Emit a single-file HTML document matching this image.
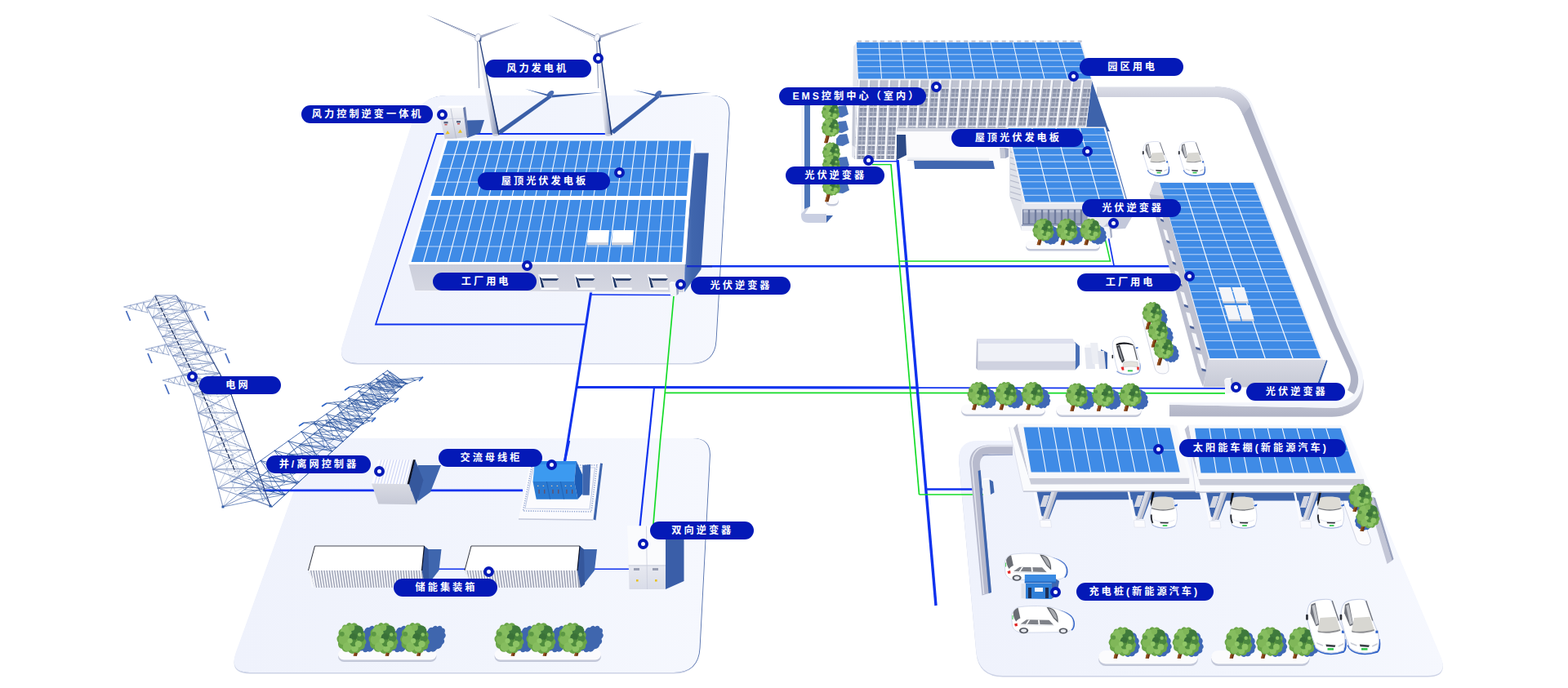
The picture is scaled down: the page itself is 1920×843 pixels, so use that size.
<!DOCTYPE html>
<html lang="zh-CN">
<head>
<meta charset="utf-8">
<title>智慧园区微电网</title>
<style>
html,body{margin:0;padding:0;background:#fff;}
body{width:1920px;height:843px;overflow:hidden;position:relative;font-family:"Liberation Sans","Noto Sans CJK SC",sans-serif;}
#scene{position:absolute;left:0;top:0;width:1920px;height:843px;display:block;}
.lb{position:absolute;height:22px;line-height:23.6px;border-radius:11px;background:#0419b7;color:#fff;font-weight:bold;font-size:12.2px;letter-spacing:3px;text-align:center;white-space:nowrap;box-sizing:border-box;}
.dt{position:absolute;width:13px;height:13px;border-radius:50%;background:#fff;border:4px solid #0419b7;box-sizing:border-box;}
</style>
</head>
<body>
<svg id="scene" width="1920" height="843" viewBox="0 0 1920 843" aria-hidden="true">
<defs>
<linearGradient id="gWall" x1="0" y1="0" x2="0" y2="1"><stop offset="0" stop-color="#cbcedb"/><stop offset="1" stop-color="#d5d7e1"/></linearGradient>
<linearGradient id="gTower" x1="0" y1="0" x2="1" y2="0"><stop offset="0" stop-color="#ffffff"/><stop offset="0.55" stop-color="#d8dbe6"/><stop offset="1" stop-color="#6f7fa8"/></linearGradient>
<linearGradient id="gBox" x1="0" y1="0" x2="0" y2="1"><stop offset="0" stop-color="#ffffff"/><stop offset="1" stop-color="#d9dce8"/></linearGradient>
<radialGradient id="gTree" cx="0.4" cy="0.35" r="0.7"><stop offset="0" stop-color="#8fd064"/><stop offset="0.6" stop-color="#5fae3f"/><stop offset="1" stop-color="#3f8a2c"/></radialGradient>
</defs>
<linearGradient id="gP1" gradientUnits="userSpaceOnUse" x1="412" y1="0" x2="894" y2="0"><stop offset="0" stop-color="#eff2fc"/><stop offset="0.6" stop-color="#f2f5fd"/><stop offset="1" stop-color="#f6f8fe"/></linearGradient>
<path d="M505.4 149 Q515 118.5 547 118.5 L870 118.5 Q894 118.5 892.6 142.5 L876.6 418.5 Q875 446.5 847 446.5 L438 446.5 Q412 446.5 419.8 421.7 Z" fill="#cdd3e6"/>
<path d="M506.3 147.5 Q515.9 117 547.9 117 L870.9 117 Q894.9 117 893.5 141 L877.5 417 Q875.9 445 847.9 445 L438.9 445 Q412.9 445 420.7 420.2 Z" fill="#5571ad"/>
<path d="M505.4 147.5 Q515 117 547 117 L870 117 Q894 117 892.6 141 L876.6 417 Q875 445 847 445 L438 445 Q412 445 419.8 420.2 Z" fill="url(#gP1)"/>
<linearGradient id="gP2" gradientUnits="userSpaceOnUse" x1="280" y1="0" x2="870" y2="0"><stop offset="0" stop-color="#eff2fc"/><stop offset="0.6" stop-color="#f2f5fd"/><stop offset="1" stop-color="#f6f8fe"/></linearGradient>
<path d="M374.2 563 Q383 538.5 409 538.5 L848 538.5 Q870 538.5 868.9 560.5 L856.6 795.5 Q855 825.5 825 825.5 L306 825.5 Q280 825.5 288.8 801 Z" fill="#cdd3e6"/>
<path d="M375.1 561.5 Q383.9 537 409.9 537 L848.9 537 Q870.9 537 869.8 559 L857.5 794 Q855.9 824 825.9 824 L306.9 824 Q280.9 824 289.7 799.5 Z" fill="#5571ad"/>
<path d="M374.2 561.5 Q383 537 409 537 L848 537 Q870 537 868.9 559 L856.6 794 Q855 824 825 824 L306 824 Q280 824 288.8 799.5 Z" fill="url(#gP2)"/>
<linearGradient id="gP3" gradientUnits="userSpaceOnUse" x1="1172" y1="0" x2="1774" y2="0"><stop offset="0" stop-color="#eff2fc"/><stop offset="0.6" stop-color="#f2f5fd"/><stop offset="1" stop-color="#f6f8fe"/></linearGradient>
<path d="M1174.3 567.4 Q1172 541.5 1198 541.5 L1634 541.5 Q1654 541.5 1661.7 560 L1764 805.5 Q1774 829.5 1748 829.5 L1228 829.5 Q1198 829.5 1195.3 799.6 Z" fill="#cdd3e6"/>
<path d="M1174.3 565.9 Q1172 540 1198 540 L1634 540 Q1654 540 1661.7 558.5 L1764 804 Q1774 828 1748 828 L1228 828 Q1198 828 1195.3 798.1 Z" fill="url(#gP3)"/>
<polyline points="745,164 534.5,164 460,397.5 716,397.5" fill="none" stroke="#0f32ee" stroke-width="1.8" />
<polyline points="724,361 823,361.5" fill="none" stroke="#0f32ee" stroke-width="1.4" />
<polyline points="724,356 706,474 690,575" fill="none" stroke="#0f32ee" stroke-width="3" />
<polyline points="840,326.2 1432,326.2" fill="none" stroke="#0f32ee" stroke-width="2.4" />
<polyline points="706,474.5 1124,475" fill="none" stroke="#0f32ee" stroke-width="3.1" />
<polyline points="1122,475.2 1500,475.8" fill="none" stroke="#0f32ee" stroke-width="1.8" />
<polyline points="815,481.3 1500,481.8" fill="none" stroke="#14dc28" stroke-width="1.7" />
<polyline points="825,363 812.5,500 808.5,540 800,642" fill="none" stroke="#14dc28" stroke-width="1.7" />
<polyline points="801,475 783.5,646" fill="none" stroke="#0f32ee" stroke-width="2.2" />
<polyline points="1091,201.6 1125.5,606" fill="none" stroke="#14dc28" stroke-width="1.7" />
<polyline points="1098.2,185 1146,742" fill="none" stroke="#0f32ee" stroke-width="3.4" />
<polyline points="1068,201.6 1091.6,201.6" fill="none" stroke="#14dc28" stroke-width="1.4" />
<polyline points="1068,197.7 1099,197.7" fill="none" stroke="#0f32ee" stroke-width="1.4" />
<polyline points="1101,320 1359.5,320 1353,292" fill="none" stroke="#14dc28" stroke-width="1.5" />
<polyline points="1364,325.5 1357.5,292" fill="none" stroke="#0f32ee" stroke-width="1.6" />
<polyline points="1125.5,606 1204,606" fill="none" stroke="#14dc28" stroke-width="1.5" />
<polyline points="1134,599.5 1204,599.5" fill="none" stroke="#0f32ee" stroke-width="2.6" />
<polyline points="322,600.8 640,600.8" fill="none" stroke="#0f32ee" stroke-width="2.8" />
<polygon points="609,161 614,164 676,119 673,116" fill="#3a5fa8"/>
<ellipse cx="674" cy="115" rx="5" ry="3" fill="#4a6db3" transform="rotate(-40 674 115)"/>
<polygon points="672,116 673,118.5 643,109" fill="#3a5fa8"/>
<polygon points="675,116.5 676,119.4 738,113" fill="#3a5fa8"/>
<polygon points="747,161 752,164 808,119 805,116" fill="#3a5fa8"/>
<ellipse cx="806" cy="115" rx="5" ry="3" fill="#4a6db3" transform="rotate(-40 806 115)"/>
<polygon points="804,116 805,118.5 775,110" fill="#3a5fa8"/>
<polygon points="807,116.5 808,119.4 871,113" fill="#3a5fa8"/>
<linearGradient id="gCab" x1="0" y1="0" x2="0" y2="1"><stop offset="0" stop-color="#f4f5f9"/><stop offset="0.45" stop-color="#e3e5ed"/><stop offset="1" stop-color="#c9ccd9"/></linearGradient>
<polygon points="572,147.5 593,147 588,163 572,169" fill="#3d62ab"/>
<polygon points="536,132 567,132 571.5,168 545,171" fill="url(#gCab)"/>
<polygon points="567,132 570,131 574,167 571.5,168" fill="#6d7fae"/>
<polygon points="536,132 538.5,129.5 569.5,129.5 567,132" fill="#ffffff"/>
<polyline points="552,133 558.5,169.5" fill="none" stroke="#aeb3c6" stroke-width="0.7" />
<polyline points="538,146 569.5,145" fill="none" stroke="#c4c8d6" stroke-width="0.6" />
<rect x="543.5" y="149" width="5" height="2.4" fill="#5b6482"/>
<rect x="544.5" y="152.2" width="3" height="1.2" fill="#c23a3a"/>
<rect x="559" y="148" width="5" height="2.4" fill="#5b6482"/>
<rect x="560" y="151.2" width="3" height="1.2" fill="#c23a3a"/>
<polygon points="548,160 550.6,164 545.6,164.4" fill="#e8c020"/>
<polygon points="563.4,158.6 566,162.6 561,163" fill="#e8c020"/>
<polygon points="546.5,170.5 549,170.5 549.4,173 547,173" fill="#7d87a6"/>
<linearGradient id="gFs" x1="0" y1="0" x2="1" y2="0"><stop offset="0" stop-color="#5578be"/><stop offset="0.3" stop-color="#4066ad"/><stop offset="1" stop-color="#3b5fa8"/></linearGradient>
<polygon points="850,187.5 867.8,187.5 858.5,330 838,358 838.5,322" fill="url(#gFs)"/>
<polygon points="849.5,172 852.5,187.5 850,187.5" fill="#e9ebf3"/>
<polygon points="500,322 838.5,322 837,358 508.5,356" fill="url(#gWall)"/>
<polyline points="508.5,356.6 837,358.6" fill="none" stroke="#f4f5fa" stroke-width="1.2" />
<polygon points="545.5,170 849.5,170 839.5,324 499.5,324" fill="#ffffff"/>
<polygon points="548,172.5 846.5,172.5 841,240 527.5,240" fill="#3f8be6"/>
<path d="M542.9 189.4L845.1 189.4M537.8 206.2L843.8 206.2M532.6 223.1L842.4 223.1" fill="none" stroke="#bcd6f8" stroke-width="1.1"/>
<path d="M561.6 172.5L541.8 240M575.1 172.5L556 240M588.7 172.5L570.2 240M602.3 172.5L584.5 240M615.8 172.5L598.8 240M629.4 172.5L613 240M643 172.5L627.2 240M656.5 172.5L641.5 240M670.1 172.5L655.8 240M683.7 172.5L670 240M697.2 172.5L684.2 240M710.8 172.5L698.5 240M724.4 172.5L712.8 240M738 172.5L727 240M751.5 172.5L741.2 240M765.1 172.5L755.5 240M778.7 172.5L769.8 240M792.2 172.5L784 240M805.8 172.5L798.2 240M819.4 172.5L812.5 240M832.9 172.5L826.8 240" fill="none" stroke="#ffffff" stroke-width="1.1" stroke-opacity="0.95"/>
<polygon points="525.5,245 840.5,245 835,321 503.5,321" fill="#3f8be6"/>
<path d="M520 264L839.1 264M514.5 283L837.8 283M509 302L836.4 302" fill="none" stroke="#bcd6f8" stroke-width="1.1"/>
<path d="M539.8 245L518.6 321M554.1 245L533.6 321M568.5 245L548.7 321M582.8 245L563.8 321M597.1 245L578.8 321M611.4 245L593.9 321M625.7 245L609 321M640 245L624 321M654.4 245L639.1 321M668.7 245L654.2 321M683 245L669.2 321M697.3 245L684.3 321M711.6 245L699.4 321M726 245L714.5 321M740.3 245L729.5 321M754.6 245L744.6 321M768.9 245L759.7 321M783.2 245L774.7 321M797.5 245L789.8 321M811.9 245L804.9 321M826.2 245L819.9 321" fill="none" stroke="#ffffff" stroke-width="1.1" stroke-opacity="0.95"/>
<polygon points="720.5,282 746,282 745,297 719,297" fill="#ffffff"/>
<polygon points="719,297 745,297 745,300.5 719,300.5" fill="#cfd2dc"/>
<polygon points="750.5,282 776,282 775,297 749,297" fill="#ffffff"/>
<polygon points="749,297 775,297 775,300.5 749,300.5" fill="#cfd2dc"/>
<polygon points="658.8,336.2 681.2,336.2 684.4,341.2 663.1,341.2" fill="#fbfcfe"/>
<polygon points="663.1,341.2 684.4,341.2 681.8,343.8 665.1,343.8" fill="#1d3566"/>
<polygon points="660.4,338.8 663.1,341.2 666.4,352.5 663.4,352.8" fill="#1d3566"/>
<polygon points="658.8,336.2 660.4,338.8 663.4,352.8 662.1,354.2" fill="#f4f5f9"/>
<polygon points="663.4,352.5 684.4,352.5 684.4,355 662.1,355" fill="#fbfcfe"/>
<polygon points="703.1,336.2 725.6,336.2 728.7,341.2 707.5,341.2" fill="#fbfcfe"/>
<polygon points="707.5,341.2 728.7,341.2 726.1,343.8 709.5,343.8" fill="#1d3566"/>
<polygon points="704.7,338.8 707.5,341.2 710.7,352.5 707.7,352.8" fill="#1d3566"/>
<polygon points="703.1,336.2 704.7,338.8 707.7,352.8 706.5,354.2" fill="#f4f5f9"/>
<polygon points="707.7,352.5 728.7,352.5 728.7,355 706.5,355" fill="#fbfcfe"/>
<polygon points="748.1,336.2 770.6,336.2 773.7,341.2 752.5,341.2" fill="#fbfcfe"/>
<polygon points="752.5,341.2 773.7,341.2 771.1,343.8 754.5,343.8" fill="#1d3566"/>
<polygon points="749.7,338.8 752.5,341.2 755.7,352.5 752.7,352.8" fill="#1d3566"/>
<polygon points="748.1,336.2 749.7,338.8 752.7,352.8 751.5,354.2" fill="#f4f5f9"/>
<polygon points="752.7,352.5 773.7,352.5 773.7,355 751.5,355" fill="#fbfcfe"/>
<polygon points="792.5,336.2 815,336.2 818.1,341.2 796.9,341.2" fill="#fbfcfe"/>
<polygon points="796.9,341.2 818.1,341.2 815.5,343.8 798.9,343.8" fill="#1d3566"/>
<polygon points="794.1,338.8 796.9,341.2 800.1,352.5 797.1,352.8" fill="#1d3566"/>
<polygon points="792.5,336.2 794.1,338.8 797.1,352.8 795.9,354.2" fill="#f4f5f9"/>
<polygon points="797.1,352.5 818.1,352.5 818.1,355 795.9,355" fill="#fbfcfe"/>
<polyline points="841,326.2 872,326.2" fill="none" stroke="#1530c8" stroke-width="2.4" />
<polygon points="819.5,347 828,347 828.5,362 821,362.5" fill="#f3f4f8"/>
<polygon points="828,347 830.5,346 831,360 828.5,362" fill="#9aa6c4"/>
<polygon points="819.5,347 822,345 830.5,346 828,347" fill="#ffffff"/>
<polygon points="603,165.5 611.6,165.5 587.6,49 583.6,49" fill="url(#gTower)"/>
<polygon points="610,165.5 611.6,165 587.8,49 586.6,49" fill="#1f3a78"/>
<ellipse cx="606.8" cy="165.5" rx="3.5" ry="1.4" fill="#c9cddb"/>
<polygon points="583.8,48 585.3,48 587.2,108 586.2,108" fill="#8e9ab8"/>
<polygon points="583,43.8 584.5,47.6 522,18" fill="#4e6192"/>
<polygon points="583,44.8 584,47 537.8,25" fill="#f1f3f9"/>
<polygon points="585.5,44.4 586.4,47.8 637.5,27" fill="#a2abc6"/>
<polygon points="586,45 589.4,46 589.4,50.5 586,51" fill="#3d568e"/>
<ellipse cx="585" cy="46" rx="3.1" ry="4.8" fill="#f7f8fc" stroke="#a3adc8" stroke-width="0.6" transform="rotate(14 585 46)"/>
<polygon points="741,165.5 749.6,165.5 733.6,49 729.6,49" fill="url(#gTower)"/>
<polygon points="748,165.5 749.6,165 733.8,49 732.6,49" fill="#1f3a78"/>
<ellipse cx="744.8" cy="165.5" rx="3.5" ry="1.4" fill="#c9cddb"/>
<polygon points="729.8,48 731.3,48 733.2,108 732.2,108" fill="#8e9ab8"/>
<polygon points="729,43.8 730.5,47.6 671,18" fill="#4e6192"/>
<polygon points="729,44.8 730,47 686,25" fill="#f1f3f9"/>
<polygon points="731.5,44.4 732.4,47.8 788,27" fill="#a2abc6"/>
<polygon points="732,45 735.4,46 735.4,50.5 732,51" fill="#3d568e"/>
<ellipse cx="731" cy="46" rx="3.1" ry="4.8" fill="#f7f8fc" stroke="#a3adc8" stroke-width="0.6" transform="rotate(14 731 46)"/>
<linearGradient id="gKerbH" x1="0" y1="0" x2="0" y2="1"><stop offset="0" stop-color="#dcdee8"/><stop offset="1" stop-color="#b3b6c8"/></linearGradient>
<linearGradient id="gKerbS" x1="0" y1="0" x2="1" y2="0"><stop offset="0" stop-color="#a9adc2"/><stop offset="1" stop-color="#c9ccd9"/></linearGradient>
<linearGradient id="gKerbF" x1="0" y1="0" x2="0" y2="1"><stop offset="0" stop-color="#d9dbe5"/><stop offset="1" stop-color="#b1b4c6"/></linearGradient>
<path d="M1432 495.8 L1632 499.8 C1652 499.8 1664 490 1669.5 464 C1672 486 1664 510.8 1631 510.8 L1432 510.2 Z" fill="url(#gKerbF)"/>
<path d="M1488 105.6 C1512 105.6 1527 113 1534 129 L1644 400 L1667 452 C1672 466 1668 482 1660 490 C1652 497 1644 499.8 1632 499.8 L1432 495.8 L1432 493.3 L1630 493.3 C1642 493.3 1652 489 1658 483 C1664 474 1665 462 1660 450 L1637 400 L1531 130 C1524 114 1510 106.5 1488 106.5 Z" fill="#f3f5fb"/>
<path d="M1343 106.5 L1488 106.5 C1510 106.5 1524 114 1531 130 L1637 400 L1660 450 C1665 462 1664 474 1658 483 L1650 478 C1655 470 1655 462 1651 452 L1627.5 400 L1522 141 C1516 125 1506 119 1488 119 L1343 119 Z" fill="#aeb2c5"/>
<path d="M1343 106.5 L1488 106.5 C1510 106.5 1524 114 1531 130 L1522 141 C1516 125 1506 119 1488 119 L1343 119 Z" fill="url(#gKerbH)"/>
<polyline points="1343,106.5 1488,106.5" fill="none" stroke="#eceef5" stroke-width="1" />
<path d="M981 129 L992 129 L992 252 L985.5 262 L1012 262 L1012 273 L990 273 C984 273 981 270 981 264 Z" fill="#c9cfe2"/>
<polygon points="985,129 992,129 992,253 985,256" fill="#4d76ba"/>
<polygon points="981,129 985,129 985,258 981,262" fill="#f3f5fb"/>
<polygon points="1012,264 1020,264 1012,273" fill="#3f66ae"/>
<polygon points="1337,99 1356,155 1359,161 1330,161 1330,156" fill="#3e63ab"/>
<polygon points="1045,57 1049,52 1050.5,97 1046.5,195 1043,192" fill="#e4e6ee"/>
<polygon points="1044.2,120 1047,120 1046.6,180 1043.4,178" fill="#c3c7d4"/>
<clipPath id="cFac"><polygon points="1050.5,97 1337,97 1330,156.5 1098,156.5 1098,195 1046.5,195"/></clipPath>
<g clip-path="url(#cFac)">
<polygon points="1040,97 1340,97 1340,196 1040,196" fill="#8f97ae"/>
<polygon points="1040,97 1340,97 1340,107 1040,107" fill="#bfc3d1"/>
<rect x="1040" y="107" width="300" height="1.8" fill="#dfe2ea"/>
<rect x="1040" y="109.2" width="300" height="1.3" fill="#7f879f"/>
<rect x="1040" y="118.7" width="300" height="1.8" fill="#dfe2ea"/>
<rect x="1040" y="120.9" width="300" height="1.3" fill="#7f879f"/>
<rect x="1040" y="130.4" width="300" height="1.8" fill="#dfe2ea"/>
<rect x="1040" y="132.6" width="300" height="1.3" fill="#7f879f"/>
<rect x="1040" y="142.1" width="300" height="1.8" fill="#dfe2ea"/>
<rect x="1040" y="144.3" width="300" height="1.3" fill="#7f879f"/>
<rect x="1040" y="153.8" width="300" height="1.8" fill="#dfe2ea"/>
<rect x="1040" y="156" width="300" height="1.3" fill="#7f879f"/>
<rect x="1040" y="165.5" width="300" height="1.8" fill="#dfe2ea"/>
<rect x="1040" y="167.7" width="300" height="1.3" fill="#7f879f"/>
<rect x="1040" y="177.2" width="300" height="1.8" fill="#dfe2ea"/>
<rect x="1040" y="179.4" width="300" height="1.3" fill="#7f879f"/>
<rect x="1040" y="188.9" width="300" height="1.8" fill="#dfe2ea"/>
<rect x="1040" y="191.1" width="300" height="1.3" fill="#7f879f"/>
<path d="M1040 114.2H1340M1040 125.9H1340M1040 137.6H1340M1040 149.3H1340M1040 161H1340M1040 172.7H1340M1040 184.4H1340M1040 196.1H1340" fill="none" stroke="#c3c8d6" stroke-width="0.9"/>
<polygon points="1052.9,97 1054.3,97 1050.3,195 1048.9,195" fill="#b4b9ca"/>
<polygon points="1057.9,106 1058.7,106 1054.7,195 1053.9,195" fill="#c5c9d6"/>
<polygon points="1050.5,97 1052.9,97 1048.9,195 1046.5,195" fill="#f7f8fb"/>
<polygon points="1065.4,97 1066.8,97 1062.3,195 1060.9,195" fill="#b4b9ca"/>
<polygon points="1070.4,106 1071.2,106 1066.7,195 1065.9,195" fill="#c5c9d6"/>
<polygon points="1063,97 1065.4,97 1060.9,195 1058.5,195" fill="#f7f8fb"/>
<polygon points="1077.8,97 1079.2,97 1074.4,195 1073,195" fill="#b4b9ca"/>
<polygon points="1082.8,106 1083.6,106 1078.8,195 1078,195" fill="#c5c9d6"/>
<polygon points="1075.4,97 1077.8,97 1073,195 1070.6,195" fill="#f7f8fb"/>
<polygon points="1090.3,97 1091.7,97 1086.4,195 1085,195" fill="#b4b9ca"/>
<polygon points="1095.3,106 1096.1,106 1090.8,195 1090,195" fill="#c5c9d6"/>
<polygon points="1087.9,97 1090.3,97 1085,195 1082.6,195" fill="#f7f8fb"/>
<polygon points="1102.7,97 1104.1,97 1098.5,195 1097.1,195" fill="#b4b9ca"/>
<polygon points="1107.7,106 1108.5,106 1102.9,195 1102.1,195" fill="#c5c9d6"/>
<polygon points="1100.3,97 1102.7,97 1097.1,195 1094.7,195" fill="#f7f8fb"/>
<polygon points="1115.2,97 1116.6,97 1110.5,195 1109.1,195" fill="#b4b9ca"/>
<polygon points="1120.2,106 1121,106 1114.9,195 1114.1,195" fill="#c5c9d6"/>
<polygon points="1112.8,97 1115.2,97 1109.1,195 1106.7,195" fill="#f7f8fb"/>
<polygon points="1127.6,97 1129,97 1122.6,195 1121.2,195" fill="#b4b9ca"/>
<polygon points="1132.6,106 1133.4,106 1127,195 1126.2,195" fill="#c5c9d6"/>
<polygon points="1125.2,97 1127.6,97 1121.2,195 1118.8,195" fill="#f7f8fb"/>
<polygon points="1140.1,97 1141.5,97 1134.6,195 1133.2,195" fill="#b4b9ca"/>
<polygon points="1145.1,106 1145.9,106 1139,195 1138.2,195" fill="#c5c9d6"/>
<polygon points="1137.7,97 1140.1,97 1133.2,195 1130.8,195" fill="#f7f8fb"/>
<polygon points="1152.6,97 1154,97 1146.6,195 1145.2,195" fill="#b4b9ca"/>
<polygon points="1157.6,106 1158.4,106 1151,195 1150.2,195" fill="#c5c9d6"/>
<polygon points="1150.2,97 1152.6,97 1145.2,195 1142.8,195" fill="#f7f8fb"/>
<polygon points="1165,97 1166.4,97 1158.7,195 1157.3,195" fill="#b4b9ca"/>
<polygon points="1170,106 1170.8,106 1163.1,195 1162.3,195" fill="#c5c9d6"/>
<polygon points="1162.6,97 1165,97 1157.3,195 1154.9,195" fill="#f7f8fb"/>
<polygon points="1177.5,97 1178.9,97 1170.7,195 1169.3,195" fill="#b4b9ca"/>
<polygon points="1182.5,106 1183.3,106 1175.1,195 1174.3,195" fill="#c5c9d6"/>
<polygon points="1175.1,97 1177.5,97 1169.3,195 1166.9,195" fill="#f7f8fb"/>
<polygon points="1189.9,97 1191.3,97 1182.8,195 1181.4,195" fill="#b4b9ca"/>
<polygon points="1194.9,106 1195.7,106 1187.2,195 1186.4,195" fill="#c5c9d6"/>
<polygon points="1187.5,97 1189.9,97 1181.4,195 1179,195" fill="#f7f8fb"/>
<polygon points="1202.4,97 1203.8,97 1194.8,195 1193.4,195" fill="#b4b9ca"/>
<polygon points="1207.4,106 1208.2,106 1199.2,195 1198.4,195" fill="#c5c9d6"/>
<polygon points="1200,97 1202.4,97 1193.4,195 1191,195" fill="#f7f8fb"/>
<polygon points="1214.8,97 1216.2,97 1206.9,195 1205.5,195" fill="#b4b9ca"/>
<polygon points="1219.8,106 1220.6,106 1211.3,195 1210.5,195" fill="#c5c9d6"/>
<polygon points="1212.4,97 1214.8,97 1205.5,195 1203.1,195" fill="#f7f8fb"/>
<polygon points="1227.3,97 1228.7,97 1218.9,195 1217.5,195" fill="#b4b9ca"/>
<polygon points="1232.3,106 1233.1,106 1223.3,195 1222.5,195" fill="#c5c9d6"/>
<polygon points="1224.9,97 1227.3,97 1217.5,195 1215.1,195" fill="#f7f8fb"/>
<polygon points="1239.7,97 1241.1,97 1231,195 1229.6,195" fill="#b4b9ca"/>
<polygon points="1244.7,106 1245.5,106 1235.4,195 1234.6,195" fill="#c5c9d6"/>
<polygon points="1237.3,97 1239.7,97 1229.6,195 1227.2,195" fill="#f7f8fb"/>
<polygon points="1252.2,97 1253.6,97 1243,195 1241.6,195" fill="#b4b9ca"/>
<polygon points="1257.2,106 1258,106 1247.4,195 1246.6,195" fill="#c5c9d6"/>
<polygon points="1249.8,97 1252.2,97 1241.6,195 1239.2,195" fill="#f7f8fb"/>
<polygon points="1264.7,97 1266.1,97 1255,195 1253.6,195" fill="#b4b9ca"/>
<polygon points="1269.7,106 1270.5,106 1259.4,195 1258.6,195" fill="#c5c9d6"/>
<polygon points="1262.3,97 1264.7,97 1253.6,195 1251.2,195" fill="#f7f8fb"/>
<polygon points="1277.1,97 1278.5,97 1267.1,195 1265.7,195" fill="#b4b9ca"/>
<polygon points="1282.1,106 1282.9,106 1271.5,195 1270.7,195" fill="#c5c9d6"/>
<polygon points="1274.7,97 1277.1,97 1265.7,195 1263.3,195" fill="#f7f8fb"/>
<polygon points="1289.6,97 1291,97 1279.1,195 1277.7,195" fill="#b4b9ca"/>
<polygon points="1294.6,106 1295.4,106 1283.5,195 1282.7,195" fill="#c5c9d6"/>
<polygon points="1287.2,97 1289.6,97 1277.7,195 1275.3,195" fill="#f7f8fb"/>
<polygon points="1302,97 1303.4,97 1291.2,195 1289.8,195" fill="#b4b9ca"/>
<polygon points="1307,106 1307.8,106 1295.6,195 1294.8,195" fill="#c5c9d6"/>
<polygon points="1299.6,97 1302,97 1289.8,195 1287.4,195" fill="#f7f8fb"/>
<polygon points="1314.5,97 1315.9,97 1303.2,195 1301.8,195" fill="#b4b9ca"/>
<polygon points="1319.5,106 1320.3,106 1307.6,195 1306.8,195" fill="#c5c9d6"/>
<polygon points="1312.1,97 1314.5,97 1301.8,195 1299.4,195" fill="#f7f8fb"/>
<polygon points="1326.9,97 1328.3,97 1315.3,195 1313.9,195" fill="#b4b9ca"/>
<polygon points="1331.9,106 1332.7,106 1319.7,195 1318.9,195" fill="#c5c9d6"/>
<polygon points="1324.5,97 1326.9,97 1313.9,195 1311.5,195" fill="#f7f8fb"/>
<polygon points="1339.4,97 1340.8,97 1327.3,195 1325.9,195" fill="#b4b9ca"/>
<polygon points="1344.4,106 1345.2,106 1331.7,195 1330.9,195" fill="#c5c9d6"/>
<polygon points="1337,97 1339.4,97 1325.9,195 1323.5,195" fill="#f7f8fb"/>
</g>
<polyline points="1050.5,97.6 1337,97.6" fill="none" stroke="#f8f9fc" stroke-width="1.4" />
<polygon points="1098,157 1240,157 1240,196 1098,196" fill="#fbfbfd"/>
<polygon points="1098,165 1109,165 1110,190 1098,196" fill="#2d4a86"/>
<polygon points="1098,157 1240,157 1240,161 1098,161" fill="#d5d8e2"/>
<polygon points="1119,197 1216,197 1218,207 1120,207" fill="#4167b0"/>
<polygon points="1111,192.8 1211,193.6 1211.5,196.6 1112,196" fill="#eef0f5"/>
<polyline points="1111,196.3 1211.5,196.9" fill="none" stroke="#b8bccb" stroke-width="0.8" />
<polygon points="1224,181 1230,181 1231,194 1225,194" fill="#c4c8d6"/>
<polygon points="1230,181 1235,182 1235,192 1231,194" fill="#9fa8c2"/>
<polygon points="1047.8,50.5 1324,50.5 1338,98 1050,98" fill="#eef0f6"/>
<rect x="1050" y="49.6" width="5" height="2" fill="#b9bdcc"/>
<rect x="1059.3" y="49.6" width="5" height="2" fill="#b9bdcc"/>
<rect x="1068.6" y="49.6" width="5" height="2" fill="#b9bdcc"/>
<rect x="1077.9" y="49.6" width="5" height="2" fill="#b9bdcc"/>
<rect x="1087.2" y="49.6" width="5" height="2" fill="#b9bdcc"/>
<rect x="1096.5" y="49.6" width="5" height="2" fill="#b9bdcc"/>
<rect x="1105.8" y="49.6" width="5" height="2" fill="#b9bdcc"/>
<rect x="1115.1" y="49.6" width="5" height="2" fill="#b9bdcc"/>
<rect x="1124.4" y="49.6" width="5" height="2" fill="#b9bdcc"/>
<rect x="1133.7" y="49.6" width="5" height="2" fill="#b9bdcc"/>
<rect x="1143" y="49.6" width="5" height="2" fill="#b9bdcc"/>
<rect x="1152.3" y="49.6" width="5" height="2" fill="#b9bdcc"/>
<rect x="1161.6" y="49.6" width="5" height="2" fill="#b9bdcc"/>
<rect x="1170.9" y="49.6" width="5" height="2" fill="#b9bdcc"/>
<rect x="1180.2" y="49.6" width="5" height="2" fill="#b9bdcc"/>
<rect x="1189.5" y="49.6" width="5" height="2" fill="#b9bdcc"/>
<rect x="1198.8" y="49.6" width="5" height="2" fill="#b9bdcc"/>
<rect x="1208.1" y="49.6" width="5" height="2" fill="#b9bdcc"/>
<rect x="1217.4" y="49.6" width="5" height="2" fill="#b9bdcc"/>
<rect x="1226.7" y="49.6" width="5" height="2" fill="#b9bdcc"/>
<rect x="1236" y="49.6" width="5" height="2" fill="#b9bdcc"/>
<rect x="1245.3" y="49.6" width="5" height="2" fill="#b9bdcc"/>
<rect x="1254.6" y="49.6" width="5" height="2" fill="#b9bdcc"/>
<rect x="1263.9" y="49.6" width="5" height="2" fill="#b9bdcc"/>
<rect x="1273.2" y="49.6" width="5" height="2" fill="#b9bdcc"/>
<rect x="1282.5" y="49.6" width="5" height="2" fill="#b9bdcc"/>
<rect x="1291.8" y="49.6" width="5" height="2" fill="#b9bdcc"/>
<rect x="1301.1" y="49.6" width="5" height="2" fill="#b9bdcc"/>
<rect x="1310.4" y="49.6" width="5" height="2" fill="#b9bdcc"/>
<rect x="1319.7" y="49.6" width="5" height="2" fill="#b9bdcc"/>
<polygon points="1048.8,52 1322.5,52 1336,96.5 1051,96.5" fill="#3f8be6"/>
<path d="M1049.1 59.4L1324.8 59.4M1049.5 66.8L1327 66.8M1049.9 74.2L1329.2 74.2M1050.2 81.7L1331.5 81.7M1050.6 89.1L1333.8 89.1" fill="none" stroke="#bcd6f8" stroke-width="1"/>
<path d="M1076.1 52L1079.5 96.5M1103.5 52L1108 96.5M1130.9 52L1136.5 96.5M1158.2 52L1165 96.5M1185.6 52L1193.5 96.5M1213 52L1222 96.5M1240.4 52L1250.5 96.5M1267.8 52L1279 96.5M1295.1 52L1307.5 96.5" fill="none" stroke="#ffffff" stroke-width="1" stroke-opacity="0.95"/>
<polygon points="1352.5,157 1355,157 1381.5,250 1379,250" fill="#3f66ae"/>
<polygon points="1345,264 1386,266 1378,280 1346,282" fill="#c3c8da"/>
<polygon points="1379,250 1382,250 1386,266 1350,265" fill="#d5d9e6"/>
<polygon points="1236,176 1241,180 1256,250 1251,283 1236,240" fill="#dfe2ea"/>
<polyline points="1237,186 1250,190" fill="none" stroke="#b4b9ca" stroke-width="1.2" />
<polyline points="1237,193 1250,197" fill="none" stroke="#b4b9ca" stroke-width="1.2" />
<polyline points="1237,200 1250,204" fill="none" stroke="#b4b9ca" stroke-width="1.2" />
<polyline points="1237,207 1250,211" fill="none" stroke="#b4b9ca" stroke-width="1.2" />
<polyline points="1237,214 1250,218" fill="none" stroke="#b4b9ca" stroke-width="1.2" />
<polyline points="1237,221 1250,225" fill="none" stroke="#b4b9ca" stroke-width="1.2" />
<polyline points="1237,228 1250,232" fill="none" stroke="#b4b9ca" stroke-width="1.2" />
<polyline points="1237,235 1250,239" fill="none" stroke="#b4b9ca" stroke-width="1.2" />
<polyline points="1237,242 1250,246" fill="none" stroke="#b4b9ca" stroke-width="1.2" />
<polygon points="1251,250 1379,250 1346,283 1251,283" fill="#e6e8ef"/>
<polygon points="1252,256.5 1332,256.5 1331,275 1252,275" fill="#6f7b9d"/>
<rect x="1253.2" y="257.3" width="5.6" height="16.6" fill="#9aa3bd"/>
<rect x="1253.2" y="257.3" width="5.6" height="3" fill="#b9c0d4"/>
<rect x="1261.2" y="257.3" width="5.6" height="16.6" fill="#9aa3bd"/>
<rect x="1261.2" y="257.3" width="5.6" height="3" fill="#b9c0d4"/>
<rect x="1269.2" y="257.3" width="5.6" height="16.6" fill="#9aa3bd"/>
<rect x="1269.2" y="257.3" width="5.6" height="3" fill="#b9c0d4"/>
<rect x="1277.2" y="257.3" width="5.6" height="16.6" fill="#9aa3bd"/>
<rect x="1277.2" y="257.3" width="5.6" height="3" fill="#b9c0d4"/>
<rect x="1285.2" y="257.3" width="5.6" height="16.6" fill="#9aa3bd"/>
<rect x="1285.2" y="257.3" width="5.6" height="3" fill="#b9c0d4"/>
<rect x="1293.2" y="257.3" width="5.6" height="16.6" fill="#9aa3bd"/>
<rect x="1293.2" y="257.3" width="5.6" height="3" fill="#b9c0d4"/>
<rect x="1301.2" y="257.3" width="5.6" height="16.6" fill="#9aa3bd"/>
<rect x="1301.2" y="257.3" width="5.6" height="3" fill="#b9c0d4"/>
<rect x="1309.2" y="257.3" width="5.6" height="16.6" fill="#9aa3bd"/>
<rect x="1309.2" y="257.3" width="5.6" height="3" fill="#b9c0d4"/>
<rect x="1317.2" y="257.3" width="5.6" height="16.6" fill="#9aa3bd"/>
<rect x="1317.2" y="257.3" width="5.6" height="3" fill="#b9c0d4"/>
<rect x="1325.2" y="257.3" width="5.6" height="16.6" fill="#9aa3bd"/>
<rect x="1325.2" y="257.3" width="5.6" height="3" fill="#b9c0d4"/>
<polygon points="1251,276.5 1340,276.5 1340,283 1251,283" fill="#f4f5f9"/>
<polyline points="1251,276 1333,276" fill="none" stroke="#4d5f8e" stroke-width="1.2" />
<polygon points="1232.5,155.5 1353.5,155.5 1380.5,250 1254,250" fill="#f1f2f7"/>
<polygon points="1234.5,157 1351.5,157 1377.5,247.5 1255.5,247.5" fill="#3f8be6"/>
<path d="M1236.4 165.2L1353.9 165.2M1238.3 173.5L1356.2 173.5M1240.2 181.7L1358.6 181.7M1242.1 189.9L1361 189.9M1244 198.1L1363.3 198.1M1246 206.4L1365.7 206.4M1247.9 214.6L1368 214.6M1249.8 222.8L1370.4 222.8M1251.7 231L1372.8 231M1253.6 239.3L1375.1 239.3" fill="none" stroke="#bcd6f8" stroke-width="1.1"/>
<path d="M1263.8 157L1286 247.5M1293 157L1316.5 247.5M1322.2 157L1347 247.5" fill="none" stroke="#ffffff" stroke-width="1.1" stroke-opacity="0.95"/>
<polygon points="1350,278 1358.5,277.5 1360,292 1352,293" fill="#f5f6fa"/>
<polygon points="1358.5,277.5 1361,279 1362,290.5 1360,292" fill="#a5adc6"/>
<polygon points="1413.7,222.5 1420,224 1481,439 1473,474 1466.5,457 1407.5,238" fill="#bfc2d1"/>
<polygon points="1413.7,222.5 1420,224 1424,240 1407.5,238" fill="#d5d7e2"/>
<polygon points="1417.3,255.4 1421,256.9 1424.5,269.3 1420.8,267.8" fill="#f7f8fb"/>
<polygon points="1420.8,267.8 1424.5,269.3 1425.3,272.3 1421.6,270.8" fill="#4c629a"/>
<polygon points="1424.3,280.8 1428.3,282.3 1432,295.5 1428,294" fill="#f7f8fb"/>
<polygon points="1428,294 1432,295.5 1432.8,298.5 1428.8,297" fill="#4c629a"/>
<polygon points="1431.2,306.1 1435.5,307.6 1439.4,321.7 1435.2,320.2" fill="#f7f8fb"/>
<polygon points="1435.2,320.2 1439.4,321.7 1440.2,324.7 1436,323.2" fill="#4c629a"/>
<polygon points="1438.2,331.5 1442.7,333 1446.9,348 1442.4,346.5" fill="#f7f8fb"/>
<polygon points="1442.4,346.5 1446.9,348 1447.7,351 1443.2,349.5" fill="#4c629a"/>
<polygon points="1445.1,356.9 1449.9,358.4 1454.4,374.2 1449.6,372.7" fill="#f7f8fb"/>
<polygon points="1449.6,372.7 1454.4,374.2 1455.2,377.2 1450.4,375.7" fill="#4c629a"/>
<polygon points="1452.1,382.2 1457.1,383.7 1461.8,400.4 1456.7,398.9" fill="#f7f8fb"/>
<polygon points="1456.7,398.9 1461.8,400.4 1462.6,403.4 1457.5,401.9" fill="#4c629a"/>
<polygon points="1459,407.6 1464.4,409.1 1469.3,426.6 1463.9,425.1" fill="#f7f8fb"/>
<polygon points="1463.9,425.1 1469.3,426.6 1470.1,429.6 1464.7,428.1" fill="#4c629a"/>
<polygon points="1466,433 1471.6,434.5 1476.7,452.8 1471.1,451.3" fill="#f7f8fb"/>
<polygon points="1471.1,451.3 1476.7,452.8 1477.5,455.8 1471.9,454.3" fill="#4c629a"/>
<linearGradient id="gWall2" x1="0" y1="0" x2="0" y2="1"><stop offset="0" stop-color="#d9dbe4"/><stop offset="1" stop-color="#c6c9d6"/></linearGradient>
<polygon points="1624,441 1625.5,442 1616,470 1613.5,469" fill="#3f66ae"/>
<polygon points="1479,440 1624,441 1613.5,469.5 1612,474.5 1473.5,474.5" fill="url(#gWall2)"/>
<polygon points="1419.5,222.8 1536.5,222.8 1620,441 1480.5,441" fill="#f1f2f7"/>
<polygon points="1420,224 1534.5,224 1617,439 1481.5,439" fill="#3f8be6"/>
<path d="M1422.1 231.3L1537.3 231.3M1424.2 238.8L1540.2 238.8M1426.4 246.4L1543.1 246.4M1428.6 254.1L1546 254.1M1430.8 261.9L1549 261.9M1433.1 269.9L1552.1 269.9M1435.4 278L1555.2 278M1437.8 286.2L1558.4 286.2M1440.2 294.6L1561.6 294.6M1442.6 303.1L1564.9 303.1M1445.1 311.8L1568.2 311.8M1447.6 320.6L1571.6 320.6M1450.2 329.6L1575 329.6M1452.8 338.7L1578.5 338.7M1455.5 348L1582.1 348M1458.2 357.5L1585.7 357.5M1460.9 367.1L1589.4 367.1M1463.7 376.8L1593.1 376.8M1466.6 386.8L1597 386.8M1469.4 396.9L1600.8 396.9M1472.4 407.1L1604.8 407.1M1475.4 417.6L1608.8 417.6M1478.4 428.2L1612.9 428.2" fill="none" stroke="#bcd6f8" stroke-width="1"/>
<path d="M1448.6 224L1515.4 439M1477.2 224L1549.2 439M1505.9 224L1583.1 439" fill="none" stroke="#ffffff" stroke-width="1.2" stroke-opacity="0.95"/>
<polygon points="1492,352 1507,352 1512,369 1497,369" fill="#f4f5f9"/>
<polygon points="1497,369 1512,369 1512.5,371.5 1497.5,371.5" fill="#cfd2dc"/>
<polygon points="1508.5,352 1523.5,352 1528.5,369 1513.5,369" fill="#f4f5f9"/>
<polygon points="1513.5,369 1528.5,369 1529,371.5 1514,371.5" fill="#cfd2dc"/>
<polygon points="1499,374 1514,374 1519,391 1504,391" fill="#f4f5f9"/>
<polygon points="1504,391 1519,391 1519.5,393.5 1504.5,393.5" fill="#cfd2dc"/>
<polygon points="1515.5,374 1530.5,374 1535.5,391 1520.5,391" fill="#f4f5f9"/>
<polygon points="1520.5,391 1535.5,391 1536,393.5 1521,393.5" fill="#cfd2dc"/>
<polygon points="1499,466 1507,464.5 1509.5,481 1501,482.5" fill="#f3f4f8"/>
<polygon points="1499,466 1501,463.5 1509,462.5 1507,464.5" fill="#ffffff"/>
<polygon points="1507,464.5 1509,462.5 1511,478.5 1509.5,481" fill="#aab2ca"/>
<rect x="1011" y="169.5" width="16" height="83" rx="6" fill="#c3c8d9"/>
<rect x="1011" y="168" width="16" height="82" rx="6" fill="#fbfbfd"/>
<polygon points="1023,135 1027,130 1036,129 1039,140 1031,144 1023,143" fill="#4a72b8"/>
<polygon points="1023,154 1027,149 1036,148 1039,159 1031,163 1023,162" fill="#4a72b8"/>
<polygon points="1024,170 1028,165 1037,164 1040,175 1032,179 1024,178" fill="#4a72b8"/>
<polygon points="1024,198 1028,193 1037,192 1040,203 1032,207 1024,206" fill="#4a72b8"/>
<polygon points="1024,228 1028,223 1037,222 1040,233 1032,237 1024,236" fill="#4a72b8"/>
<polygon points="1012.1,145.4 1016.3,146 1013.4,156.5 1009.2,155.9" fill="#6f3510"/>
<polygon points="1012.1,145.4 1014,145.7 1011.1,156.2 1009.2,155.9" fill="#96501f"/>
<path d="M1017 126.2Q1020 124.3 1021.8 127.4Q1025.3 127.7 1025.4 131.8Q1028.5 133.7 1026.6 137Q1029.3 140 1027 141.8Q1027.4 145.4 1023.8 145.8Q1022.7 149.1 1019.4 147.8Q1017 150 1014.6 147Q1011 148.3 1009.8 145Q1006.3 144 1007 140.2Q1004.6 137.5 1007.4 134.6Q1006.4 130.9 1009.8 129.8Q1010 126.3 1013 127Q1014.5 124.1 1017 126.2Z" fill="#6aa548"/>
<circle cx="1013.4" cy="132.2" r="4.8" fill="#86bd5f"/>
<circle cx="1011" cy="138.2" r="3.8" fill="#80b759"/>
<circle cx="1013.8" cy="143.4" r="3.4" fill="#86bd5f"/>
<circle cx="1019.4" cy="144.6" r="2.7" fill="#8dc465"/>
<circle cx="1021.4" cy="131.8" r="4.5" fill="#3f7a3c"/>
<circle cx="1023.8" cy="137" r="2.9" fill="#4a873f"/>
<circle cx="1018.2" cy="136.2" r="2.9" fill="#3a7238"/>
<circle cx="1018.6" cy="140.6" r="2.7" fill="#4f8c3d"/>
<circle cx="1017" cy="129" r="2.4" fill="#7fb658"/>
<circle cx="1022.2" cy="141.4" r="2.6" fill="#8dc465"/>
<circle cx="1015.8" cy="139" r="1.9" fill="#90c768"/>
<circle cx="1023" cy="134.2" r="1.4" fill="#8dc465"/>
<circle cx="1009.8" cy="133.8" r="1.8" fill="#5c9843"/>
<polygon points="1012.1,164.4 1016.3,165 1013.4,175.5 1009.2,174.9" fill="#6f3510"/>
<polygon points="1012.1,164.4 1014,164.7 1011.1,175.2 1009.2,174.9" fill="#96501f"/>
<path d="M1017 145.2Q1020 143.3 1021.8 146.4Q1025.3 146.7 1025.4 150.8Q1028.5 152.7 1026.6 156Q1029.3 159 1027 160.8Q1027.4 164.4 1023.8 164.8Q1022.7 168.1 1019.4 166.8Q1017 169 1014.6 166Q1011 167.3 1009.8 164Q1006.3 163 1007 159.2Q1004.6 156.5 1007.4 153.6Q1006.4 149.9 1009.8 148.8Q1010 145.3 1013 146Q1014.5 143.1 1017 145.2Z" fill="#6aa548"/>
<circle cx="1013.4" cy="151.2" r="4.8" fill="#86bd5f"/>
<circle cx="1011" cy="157.2" r="3.8" fill="#80b759"/>
<circle cx="1013.8" cy="162.4" r="3.4" fill="#86bd5f"/>
<circle cx="1019.4" cy="163.6" r="2.7" fill="#8dc465"/>
<circle cx="1021.4" cy="150.8" r="4.5" fill="#3f7a3c"/>
<circle cx="1023.8" cy="156" r="2.9" fill="#4a873f"/>
<circle cx="1018.2" cy="155.2" r="2.9" fill="#3a7238"/>
<circle cx="1018.6" cy="159.6" r="2.7" fill="#4f8c3d"/>
<circle cx="1017" cy="148" r="2.4" fill="#7fb658"/>
<circle cx="1022.2" cy="160.4" r="2.6" fill="#8dc465"/>
<circle cx="1015.8" cy="158" r="1.9" fill="#90c768"/>
<circle cx="1023" cy="153.2" r="1.4" fill="#8dc465"/>
<circle cx="1009.8" cy="152.8" r="1.8" fill="#5c9843"/>
<polygon points="1013.1,194.4 1017.3,195 1014.4,205.5 1010.2,204.9" fill="#6f3510"/>
<polygon points="1013.1,194.4 1015,194.7 1012.1,205.2 1010.2,204.9" fill="#96501f"/>
<path d="M1018 175.2Q1021 173.3 1022.8 176.4Q1026.3 176.7 1026.4 180.8Q1029.5 182.7 1027.6 186Q1030.3 189 1028 190.8Q1028.4 194.4 1024.8 194.8Q1023.7 198.1 1020.4 196.8Q1018 199 1015.6 196Q1012 197.3 1010.8 194Q1007.3 193 1008 189.2Q1005.6 186.5 1008.4 183.6Q1007.4 179.9 1010.8 178.8Q1011 175.3 1014 176Q1015.5 173.1 1018 175.2Z" fill="#6aa548"/>
<circle cx="1014.4" cy="181.2" r="4.8" fill="#86bd5f"/>
<circle cx="1012" cy="187.2" r="3.8" fill="#80b759"/>
<circle cx="1014.8" cy="192.4" r="3.4" fill="#86bd5f"/>
<circle cx="1020.4" cy="193.6" r="2.7" fill="#8dc465"/>
<circle cx="1022.4" cy="180.8" r="4.5" fill="#3f7a3c"/>
<circle cx="1024.8" cy="186" r="2.9" fill="#4a873f"/>
<circle cx="1019.2" cy="185.2" r="2.9" fill="#3a7238"/>
<circle cx="1019.6" cy="189.6" r="2.7" fill="#4f8c3d"/>
<circle cx="1018" cy="178" r="2.4" fill="#7fb658"/>
<circle cx="1023.2" cy="190.4" r="2.6" fill="#8dc465"/>
<circle cx="1016.8" cy="188" r="1.9" fill="#90c768"/>
<circle cx="1024" cy="183.2" r="1.4" fill="#8dc465"/>
<circle cx="1010.8" cy="182.8" r="1.8" fill="#5c9843"/>
<polygon points="1013.1,209.4 1017.3,210 1014.4,220.5 1010.2,219.9" fill="#6f3510"/>
<polygon points="1013.1,209.4 1015,209.7 1012.1,220.2 1010.2,219.9" fill="#96501f"/>
<path d="M1018 190.2Q1021 188.3 1022.8 191.4Q1026.3 191.7 1026.4 195.8Q1029.5 197.7 1027.6 201Q1030.3 204 1028 205.8Q1028.4 209.4 1024.8 209.8Q1023.7 213.1 1020.4 211.8Q1018 214 1015.6 211Q1012 212.3 1010.8 209Q1007.3 208 1008 204.2Q1005.6 201.5 1008.4 198.6Q1007.4 194.9 1010.8 193.8Q1011 190.3 1014 191Q1015.5 188.1 1018 190.2Z" fill="#6aa548"/>
<circle cx="1014.4" cy="196.2" r="4.8" fill="#86bd5f"/>
<circle cx="1012" cy="202.2" r="3.8" fill="#80b759"/>
<circle cx="1014.8" cy="207.4" r="3.4" fill="#86bd5f"/>
<circle cx="1020.4" cy="208.6" r="2.7" fill="#8dc465"/>
<circle cx="1022.4" cy="195.8" r="4.5" fill="#3f7a3c"/>
<circle cx="1024.8" cy="201" r="2.9" fill="#4a873f"/>
<circle cx="1019.2" cy="200.2" r="2.9" fill="#3a7238"/>
<circle cx="1019.6" cy="204.6" r="2.7" fill="#4f8c3d"/>
<circle cx="1018" cy="193" r="2.4" fill="#7fb658"/>
<circle cx="1023.2" cy="205.4" r="2.6" fill="#8dc465"/>
<circle cx="1016.8" cy="203" r="1.9" fill="#90c768"/>
<circle cx="1024" cy="198.2" r="1.4" fill="#8dc465"/>
<circle cx="1010.8" cy="197.8" r="1.8" fill="#5c9843"/>
<polygon points="1013.1,236.4 1017.3,237 1014.4,247.5 1010.2,246.9" fill="#6f3510"/>
<polygon points="1013.1,236.4 1015,236.7 1012.1,247.2 1010.2,246.9" fill="#96501f"/>
<path d="M1018 217.2Q1021 215.3 1022.8 218.4Q1026.3 218.7 1026.4 222.8Q1029.5 224.7 1027.6 228Q1030.3 231 1028 232.8Q1028.4 236.4 1024.8 236.8Q1023.7 240.1 1020.4 238.8Q1018 241 1015.6 238Q1012 239.3 1010.8 236Q1007.3 235 1008 231.2Q1005.6 228.5 1008.4 225.6Q1007.4 221.9 1010.8 220.8Q1011 217.3 1014 218Q1015.5 215.1 1018 217.2Z" fill="#6aa548"/>
<circle cx="1014.4" cy="223.2" r="4.8" fill="#86bd5f"/>
<circle cx="1012" cy="229.2" r="3.8" fill="#80b759"/>
<circle cx="1014.8" cy="234.4" r="3.4" fill="#86bd5f"/>
<circle cx="1020.4" cy="235.6" r="2.7" fill="#8dc465"/>
<circle cx="1022.4" cy="222.8" r="4.5" fill="#3f7a3c"/>
<circle cx="1024.8" cy="228" r="2.9" fill="#4a873f"/>
<circle cx="1019.2" cy="227.2" r="2.9" fill="#3a7238"/>
<circle cx="1019.6" cy="231.6" r="2.7" fill="#4f8c3d"/>
<circle cx="1018" cy="220" r="2.4" fill="#7fb658"/>
<circle cx="1023.2" cy="232.4" r="2.6" fill="#8dc465"/>
<circle cx="1016.8" cy="230" r="1.9" fill="#90c768"/>
<circle cx="1024" cy="225.2" r="1.4" fill="#8dc465"/>
<circle cx="1010.8" cy="224.8" r="1.8" fill="#5c9843"/>
<rect x="1256" y="296.5" width="91" height="11" rx="5.5" fill="#c3c8d9"/>
<rect x="1256" y="295" width="91" height="10" rx="5.5" fill="#fbfbfd"/>
<path d="M1286 276.6Q1289.1 274.7 1291 277.9Q1294.5 278.2 1294.6 282.4Q1297.8 284.3 1295.9 287.7Q1298.6 290.7 1296.3 292.6Q1296.7 296.3 1293 296.7Q1291.9 300 1288.5 298.7Q1286 300.9 1283.6 297.9Q1279.9 299.2 1278.7 295.8Q1275.1 294.8 1275.8 290.9Q1273.4 288.2 1276.2 285.2Q1275.2 281.5 1278.7 280.3Q1278.9 276.7 1282 277.5Q1283.5 274.5 1286 276.6Z" fill="#3f68b5"/>
<polygon points="1272.1,291.5 1276.3,292.1 1273.9,300.5 1269.7,299.9" fill="#6f3510"/>
<polygon points="1272.1,291.5 1274,291.8 1271.6,300.2 1269.7,299.9" fill="#96501f"/>
<path d="M1277.5 268.7Q1281 266.4 1283.2 270.1Q1287.4 270.4 1287.5 275.3Q1291.1 277.6 1288.9 281.5Q1292.1 285.1 1289.4 287.2Q1289.8 291.5 1285.6 291.9Q1284.3 295.9 1280.3 294.3Q1277.5 296.9 1274.7 293.4Q1270.4 294.9 1269 291Q1264.7 289.8 1265.6 285.3Q1262.8 282.1 1266.1 278.6Q1264.9 274.3 1269 272.9Q1269.2 268.7 1272.8 269.6Q1274.6 266.2 1277.5 268.7Z" fill="#6aa548"/>
<circle cx="1273.2" cy="275.8" r="5.7" fill="#86bd5f"/>
<circle cx="1270.4" cy="282.9" r="4.6" fill="#80b759"/>
<circle cx="1273.7" cy="289.1" r="4" fill="#86bd5f"/>
<circle cx="1280.3" cy="290.5" r="3.2" fill="#8dc465"/>
<circle cx="1282.7" cy="275.3" r="5.3" fill="#3f7a3c"/>
<circle cx="1285.6" cy="281.5" r="3.4" fill="#4a873f"/>
<circle cx="1278.9" cy="280.6" r="3.4" fill="#3a7238"/>
<circle cx="1279.4" cy="285.8" r="3.2" fill="#4f8c3d"/>
<circle cx="1277.5" cy="272" r="2.8" fill="#7fb658"/>
<circle cx="1283.7" cy="286.7" r="3" fill="#8dc465"/>
<circle cx="1276.1" cy="283.9" r="2.3" fill="#90c768"/>
<circle cx="1284.6" cy="278.2" r="1.7" fill="#8dc465"/>
<circle cx="1269" cy="277.7" r="2.1" fill="#5c9843"/>
<path d="M1315 276.6Q1318.1 274.7 1320 277.9Q1323.5 278.2 1323.6 282.4Q1326.8 284.3 1324.9 287.7Q1327.6 290.7 1325.3 292.6Q1325.7 296.3 1322 296.7Q1320.9 300 1317.5 298.7Q1315 300.9 1312.6 297.9Q1308.9 299.2 1307.7 295.8Q1304.1 294.8 1304.8 290.9Q1302.4 288.2 1305.2 285.2Q1304.2 281.5 1307.7 280.3Q1307.9 276.7 1311 277.5Q1312.5 274.5 1315 276.6Z" fill="#3f68b5"/>
<polygon points="1301.1,291.5 1305.3,292.1 1302.9,300.5 1298.7,299.9" fill="#6f3510"/>
<polygon points="1301.1,291.5 1303,291.8 1300.6,300.2 1298.7,299.9" fill="#96501f"/>
<path d="M1306.5 268.7Q1310 266.4 1312.2 270.1Q1316.4 270.4 1316.5 275.3Q1320.1 277.6 1317.9 281.5Q1321.1 285.1 1318.4 287.2Q1318.8 291.5 1314.6 291.9Q1313.3 295.9 1309.3 294.3Q1306.5 296.9 1303.7 293.4Q1299.4 294.9 1298 291Q1293.7 289.8 1294.6 285.3Q1291.8 282.1 1295.1 278.6Q1293.9 274.3 1298 272.9Q1298.2 268.7 1301.8 269.6Q1303.6 266.2 1306.5 268.7Z" fill="#6aa548"/>
<circle cx="1302.2" cy="275.8" r="5.7" fill="#86bd5f"/>
<circle cx="1299.4" cy="282.9" r="4.6" fill="#80b759"/>
<circle cx="1302.7" cy="289.1" r="4" fill="#86bd5f"/>
<circle cx="1309.3" cy="290.5" r="3.2" fill="#8dc465"/>
<circle cx="1311.7" cy="275.3" r="5.3" fill="#3f7a3c"/>
<circle cx="1314.6" cy="281.5" r="3.4" fill="#4a873f"/>
<circle cx="1307.9" cy="280.6" r="3.4" fill="#3a7238"/>
<circle cx="1308.4" cy="285.8" r="3.2" fill="#4f8c3d"/>
<circle cx="1306.5" cy="272" r="2.8" fill="#7fb658"/>
<circle cx="1312.7" cy="286.7" r="3" fill="#8dc465"/>
<circle cx="1305.1" cy="283.9" r="2.3" fill="#90c768"/>
<circle cx="1313.6" cy="278.2" r="1.7" fill="#8dc465"/>
<circle cx="1298" cy="277.7" r="2.1" fill="#5c9843"/>
<path d="M1343.8 276.6Q1346.9 274.7 1348.8 277.9Q1352.3 278.2 1352.4 282.4Q1355.6 284.3 1353.7 287.7Q1356.4 290.7 1354.1 292.6Q1354.5 296.3 1350.8 296.7Q1349.7 300 1346.3 298.7Q1343.8 300.9 1341.4 297.9Q1337.7 299.2 1336.5 295.8Q1332.9 294.8 1333.6 290.9Q1331.2 288.2 1334 285.2Q1333 281.5 1336.5 280.3Q1336.7 276.7 1339.8 277.5Q1341.3 274.5 1343.8 276.6Z" fill="#3f68b5"/>
<polygon points="1329.9,291.5 1334.1,292.1 1331.7,300.5 1327.5,299.9" fill="#6f3510"/>
<polygon points="1329.9,291.5 1331.8,291.8 1329.4,300.2 1327.5,299.9" fill="#96501f"/>
<path d="M1335.3 268.7Q1338.8 266.4 1341 270.1Q1345.2 270.4 1345.3 275.3Q1348.9 277.6 1346.7 281.5Q1349.9 285.1 1347.2 287.2Q1347.6 291.5 1343.4 291.9Q1342.1 295.9 1338.1 294.3Q1335.3 296.9 1332.5 293.4Q1328.2 294.9 1326.8 291Q1322.5 289.8 1323.4 285.3Q1320.6 282.1 1323.9 278.6Q1322.7 274.3 1326.8 272.9Q1327 268.7 1330.5 269.6Q1332.4 266.2 1335.3 268.7Z" fill="#6aa548"/>
<circle cx="1331" cy="275.8" r="5.7" fill="#86bd5f"/>
<circle cx="1328.2" cy="282.9" r="4.6" fill="#80b759"/>
<circle cx="1331.5" cy="289.1" r="4" fill="#86bd5f"/>
<circle cx="1338.1" cy="290.5" r="3.2" fill="#8dc465"/>
<circle cx="1340.5" cy="275.3" r="5.3" fill="#3f7a3c"/>
<circle cx="1343.4" cy="281.5" r="3.4" fill="#4a873f"/>
<circle cx="1336.7" cy="280.6" r="3.4" fill="#3a7238"/>
<circle cx="1337.2" cy="285.8" r="3.2" fill="#4f8c3d"/>
<circle cx="1335.3" cy="272" r="2.8" fill="#7fb658"/>
<circle cx="1341.5" cy="286.7" r="3" fill="#8dc465"/>
<circle cx="1333.9" cy="283.9" r="2.3" fill="#90c768"/>
<circle cx="1342.4" cy="278.2" r="1.7" fill="#8dc465"/>
<circle cx="1326.8" cy="277.7" r="2.1" fill="#5c9843"/>
<g transform="translate(1398.5 172) scale(1 1)"><path d="M7 36.5C10 43 20 44.6 31 41.6C33 40 33 36 32.4 32" fill="none" stroke="#2f62c8" stroke-width="1.6"/><path d="M4.5 4C8 1.5 18 0.8 21 2L28 19L31.5 27C32.6 31 32.6 37 31 40.6C24 43.6 14 43.4 8.5 38.6L5.6 31L2 19C0.6 13 1.5 7 4.5 4Z" fill="#ffffff" stroke="#c8d0e6" stroke-width="0.7"/><path d="M4.6 5.4L8 4L11.4 21L8.6 22L4 12Z" fill="#70737c"/><path d="M5.4 6.6L7.6 5.4L10.8 19.8L8.6 20.8Z" fill="#c3c5ca"/><path d="M12 15.6L25 14.8L28.4 24.6C22 26.4 15 26.6 10 25.6Z" fill="#d8d7d2"/><path d="M10 25.4C15 26.6 22 26.4 28.4 24.4L28.6 25.4C22 27.6 15 27.8 10.2 26.6Z" fill="#8e8f92"/><path d="M21.4 2.6L22.2 2.4L27.6 17.6L26.8 18Z" fill="#6d7078"/><path d="M16.6 36L24.6 36.6L24 38.2L17 37.6Z" fill="#3b3e46"/><rect x="18" y="38.8" width="5" height="1.6" fill="#2fc24a"/><path d="M9 34.4L14.4 36.4L14 37.4L9.4 35.6Z" fill="#c9ccd6"/><path d="M26.6 37L31 35L31 36.2L27 38Z" fill="#c9ccd6"/><rect x="0.4" y="13" width="1.8" height="4.4" rx="0.8" fill="#2b2e36"/><rect x="29.6" y="25.4" width="2" height="2" fill="#2f62c8"/></g>
<g transform="translate(1442.5 172) scale(1 1)"><path d="M7 36.5C10 43 20 44.6 31 41.6C33 40 33 36 32.4 32" fill="none" stroke="#2f62c8" stroke-width="1.6"/><path d="M4.5 4C8 1.5 18 0.8 21 2L28 19L31.5 27C32.6 31 32.6 37 31 40.6C24 43.6 14 43.4 8.5 38.6L5.6 31L2 19C0.6 13 1.5 7 4.5 4Z" fill="#ffffff" stroke="#c8d0e6" stroke-width="0.7"/><path d="M4.6 5.4L8 4L11.4 21L8.6 22L4 12Z" fill="#70737c"/><path d="M5.4 6.6L7.6 5.4L10.8 19.8L8.6 20.8Z" fill="#c3c5ca"/><path d="M12 15.6L25 14.8L28.4 24.6C22 26.4 15 26.6 10 25.6Z" fill="#d8d7d2"/><path d="M10 25.4C15 26.6 22 26.4 28.4 24.4L28.6 25.4C22 27.6 15 27.8 10.2 26.6Z" fill="#8e8f92"/><path d="M21.4 2.6L22.2 2.4L27.6 17.6L26.8 18Z" fill="#6d7078"/><path d="M16.6 36L24.6 36.6L24 38.2L17 37.6Z" fill="#3b3e46"/><rect x="18" y="38.8" width="5" height="1.6" fill="#2fc24a"/><path d="M9 34.4L14.4 36.4L14 37.4L9.4 35.6Z" fill="#c9ccd6"/><path d="M26.6 37L31 35L31 36.2L27 38Z" fill="#c9ccd6"/><rect x="0.4" y="13" width="1.8" height="4.4" rx="0.8" fill="#2b2e36"/><rect x="29.6" y="25.4" width="2" height="2" fill="#2f62c8"/></g>
<polygon points="1316,419 1322,424 1322,447 1316.5,453.5" fill="#4a70b6"/>
<polygon points="1196,415 1313.5,415 1317,421 1197.5,421" fill="#dde0ee"/>
<polygon points="1197.5,421 1317,421 1317,442.5 1197.5,442.5" fill="#f0f2f8"/>
<polygon points="1197.5,442.5 1317,442.5 1316.5,453.5 1197.5,453.5" fill="#cfd2e0"/>
<polygon points="1196,415 1197.5,421 1197.5,453.5 1195,451" fill="#b9bdd0"/>
<polygon points="1348,428 1356,432 1356,452 1348,452" fill="#3f66ae"/>
<polygon points="1328,426 1339,426 1341,452 1330,452" fill="#e4e7f0"/>
<polygon points="1328,426 1330,422 1340,422 1339,426" fill="#f7f8fb"/>
<polygon points="1335,420 1344,420 1347,446 1338,446" fill="#eceef4"/>
<polygon points="1344,430 1352,430 1354,452 1346,452" fill="#dfe2ec"/>
<g transform="translate(1361.5 410.8)"><path d="M6 44C12 49 26 49.4 33 45C35 42 35 38 34 34" fill="none" stroke="#7f9ad6" stroke-width="1.4"/><path d="M2 6C6 1 16 0.2 22 3C26 6 28 12 30 19L33 30C34.6 36 34.4 42 32.6 45C26 48.6 13 48.4 7.6 44L5 36L1.6 20C0.4 14 0.4 9 2 6Z" fill="#ffffff" stroke="#c3cbe2" stroke-width="0.7"/><path d="M5 11C10 8 20 8 26 11.4L27 13C20 10.4 11 10.4 5.4 13Z" fill="#16181f"/><path d="M5.4 13.4L9.6 12L15.6 31L12.6 34L9 27Z" fill="#3b3e46"/><path d="M7.4 15L9 14.4L13.6 30L12.4 31.4Z" fill="#9a9da4"/><path d="M26 12.6L27.4 13.4L31.6 30L30.4 30.4Z" fill="#55585f"/><path d="M14.6 33C20 31.6 26 31.6 31.6 33L32 39C26 38 19 38 13 39.6Z" fill="#e4e3de" stroke="#b9bbc0" stroke-width="0.5"/><path d="M11 39L14.4 38.6L15 42.6L12.4 43Z" fill="#e42a2a"/><path d="M30.6 38.6L33.4 39L33 42.6L31 42.4Z" fill="#e42a2a"/><rect x="19.4" y="42.6" width="6" height="1.9" fill="#35c550"/><rect x="0" y="24" width="1.6" height="4.4" rx="0.7" fill="#2b2e36"/><path d="M29 15L32 14.4L32 16L29.6 16.4Z" fill="#2f62c8"/></g>
<path d="M1399 392 Q1399 386 1405 387 L1418 392 L1431 450 Q1432 458 1424 458 Q1416 458 1414 451 Z" fill="#fbfbfd" stroke="#c9cddc" stroke-width="0.8"/>
<path d="M1419.1 378.4Q1422 376.6 1423.7 379.6Q1427.1 379.8 1427.2 383.8Q1430.2 385.6 1428.4 388.9Q1431 391.8 1428.8 393.5Q1429.2 397 1425.7 397.4Q1424.6 400.6 1421.4 399.3Q1419.1 401.4 1416.8 398.5Q1413.3 399.7 1412.1 396.6Q1408.7 395.6 1409.4 391.9Q1407.1 389.3 1409.8 386.5Q1408.8 383 1412.1 381.9Q1412.3 378.5 1415.2 379.2Q1416.7 376.4 1419.1 378.4Z" fill="#3f68b5"/>
<path d="M1426.1 400.4Q1429 398.6 1430.7 401.6Q1434.1 401.8 1434.2 405.8Q1437.2 407.6 1435.4 410.9Q1438 413.8 1435.8 415.5Q1436.2 419 1432.7 419.4Q1431.6 422.6 1428.4 421.3Q1426.1 423.4 1423.8 420.5Q1420.3 421.7 1419.1 418.6Q1415.7 417.6 1416.4 413.9Q1414.1 411.3 1416.8 408.5Q1415.8 405 1419.1 403.9Q1419.3 400.5 1422.2 401.2Q1423.7 398.4 1426.1 400.4Z" fill="#3f68b5"/>
<path d="M1433.1 422.4Q1436 420.6 1437.7 423.6Q1441.1 423.8 1441.2 427.8Q1444.2 429.6 1442.4 432.9Q1445 435.8 1442.8 437.5Q1443.2 441 1439.7 441.4Q1438.6 444.6 1435.4 443.3Q1433.1 445.4 1430.8 442.5Q1427.3 443.7 1426.1 440.6Q1422.7 439.6 1423.4 435.9Q1421.1 433.3 1423.8 430.5Q1422.8 427 1426.1 425.9Q1426.3 422.5 1429.2 423.2Q1430.7 420.4 1433.1 422.4Z" fill="#3f68b5"/>
<polygon points="1405.8,392.4 1409.9,393.1 1406.9,403.8 1402.7,403.2" fill="#6f3510"/>
<polygon points="1405.8,392.4 1407.6,392.8 1404.6,403.5 1402.7,403.2" fill="#96501f"/>
<path d="M1411 370.9Q1414.4 368.7 1416.4 372.2Q1420.3 372.5 1420.5 377.1Q1423.9 379.3 1421.8 383Q1424.8 386.4 1422.2 388.4Q1422.7 392.5 1418.7 392.9Q1417.4 396.6 1413.7 395.1Q1411 397.6 1408.3 394.2Q1404.2 395.7 1402.9 392Q1398.9 390.9 1399.8 386.6Q1397.1 383.6 1400.2 380.3Q1399 376.2 1402.9 374.9Q1403.1 370.9 1406.5 371.8Q1408.2 368.5 1411 370.9Z" fill="#6aa548"/>
<circle cx="1407" cy="377.6" r="5.4" fill="#86bd5f"/>
<circle cx="1404.2" cy="384.4" r="4.3" fill="#80b759"/>
<circle cx="1407.4" cy="390.2" r="3.8" fill="#86bd5f"/>
<circle cx="1413.7" cy="391.6" r="3.1" fill="#8dc465"/>
<circle cx="1416" cy="377.1" r="5" fill="#3f7a3c"/>
<circle cx="1418.7" cy="383" r="3.2" fill="#4a873f"/>
<circle cx="1412.3" cy="382.1" r="3.2" fill="#3a7238"/>
<circle cx="1412.8" cy="387.1" r="3.1" fill="#4f8c3d"/>
<circle cx="1411" cy="374" r="2.7" fill="#7fb658"/>
<circle cx="1416.8" cy="387.9" r="2.9" fill="#8dc465"/>
<circle cx="1409.7" cy="385.2" r="2.2" fill="#90c768"/>
<circle cx="1417.8" cy="379.9" r="1.6" fill="#8dc465"/>
<circle cx="1402.9" cy="379.4" r="2" fill="#5c9843"/>
<polygon points="1412.8,414.4 1416.9,415.1 1413.9,425.8 1409.7,425.2" fill="#6f3510"/>
<polygon points="1412.8,414.4 1414.6,414.8 1411.6,425.5 1409.7,425.2" fill="#96501f"/>
<path d="M1418 392.9Q1421.4 390.7 1423.4 394.2Q1427.3 394.5 1427.5 399.1Q1430.9 401.3 1428.8 405Q1431.8 408.4 1429.2 410.4Q1429.7 414.5 1425.7 414.9Q1424.4 418.6 1420.7 417.1Q1418 419.6 1415.3 416.2Q1411.2 417.7 1409.9 414Q1405.9 412.9 1406.8 408.6Q1404.1 405.6 1407.2 402.3Q1406 398.2 1409.9 396.9Q1410.1 392.9 1413.5 393.8Q1415.2 390.5 1418 392.9Z" fill="#6aa548"/>
<circle cx="1414" cy="399.6" r="5.4" fill="#86bd5f"/>
<circle cx="1411.2" cy="406.4" r="4.3" fill="#80b759"/>
<circle cx="1414.4" cy="412.2" r="3.8" fill="#86bd5f"/>
<circle cx="1420.7" cy="413.6" r="3.1" fill="#8dc465"/>
<circle cx="1423" cy="399.1" r="5" fill="#3f7a3c"/>
<circle cx="1425.7" cy="405" r="3.2" fill="#4a873f"/>
<circle cx="1419.3" cy="404.1" r="3.2" fill="#3a7238"/>
<circle cx="1419.8" cy="409.1" r="3.1" fill="#4f8c3d"/>
<circle cx="1418" cy="396" r="2.7" fill="#7fb658"/>
<circle cx="1423.8" cy="409.9" r="2.9" fill="#8dc465"/>
<circle cx="1416.7" cy="407.2" r="2.2" fill="#90c768"/>
<circle cx="1424.8" cy="401.9" r="1.6" fill="#8dc465"/>
<circle cx="1409.9" cy="401.4" r="2" fill="#5c9843"/>
<polygon points="1419.8,436.4 1423.9,437.1 1420.9,447.8 1416.7,447.2" fill="#6f3510"/>
<polygon points="1419.8,436.4 1421.6,436.8 1418.6,447.5 1416.7,447.2" fill="#96501f"/>
<path d="M1425 414.9Q1428.4 412.7 1430.4 416.2Q1434.3 416.5 1434.5 421.1Q1437.9 423.3 1435.8 427Q1438.8 430.4 1436.2 432.4Q1436.7 436.5 1432.7 436.9Q1431.4 440.6 1427.7 439.1Q1425 441.6 1422.3 438.2Q1418.2 439.7 1416.9 436Q1412.9 434.9 1413.8 430.6Q1411.1 427.6 1414.2 424.3Q1413 420.2 1416.9 418.9Q1417.1 414.9 1420.5 415.8Q1422.2 412.5 1425 414.9Z" fill="#6aa548"/>
<circle cx="1421" cy="421.6" r="5.4" fill="#86bd5f"/>
<circle cx="1418.2" cy="428.4" r="4.3" fill="#80b759"/>
<circle cx="1421.4" cy="434.2" r="3.8" fill="#86bd5f"/>
<circle cx="1427.7" cy="435.6" r="3.1" fill="#8dc465"/>
<circle cx="1430" cy="421.1" r="5" fill="#3f7a3c"/>
<circle cx="1432.7" cy="427" r="3.2" fill="#4a873f"/>
<circle cx="1426.3" cy="426.1" r="3.2" fill="#3a7238"/>
<circle cx="1426.8" cy="431.1" r="3.1" fill="#4f8c3d"/>
<circle cx="1425" cy="418" r="2.7" fill="#7fb658"/>
<circle cx="1430.8" cy="431.9" r="2.9" fill="#8dc465"/>
<circle cx="1423.7" cy="429.2" r="2.2" fill="#90c768"/>
<circle cx="1431.8" cy="423.9" r="1.6" fill="#8dc465"/>
<circle cx="1416.9" cy="423.4" r="2" fill="#5c9843"/>
<rect x="1177" y="497" width="103" height="13" rx="6.5" fill="#c3c8d9"/>
<rect x="1177" y="495.5" width="103" height="12" rx="6.5" fill="#fbfbfd"/>
<rect x="1293.5" y="497.5" width="104" height="13.5" rx="6.8" fill="#c3c8d9"/>
<rect x="1293.5" y="496" width="104" height="12.5" rx="6.8" fill="#fbfbfd"/>
<path d="M1208.3 476.4Q1211.5 474.4 1213.5 477.7Q1217.2 478 1217.3 482.4Q1220.6 484.4 1218.6 488Q1221.5 491.2 1219 493.2Q1219.5 497 1215.6 497.5Q1214.4 501 1210.9 499.6Q1208.3 501.9 1205.7 498.8Q1201.8 500.1 1200.6 496.6Q1196.7 495.5 1197.5 491.4Q1195 488.5 1198 485.4Q1196.9 481.5 1200.6 480.3Q1200.8 476.4 1204 477.2Q1205.6 474.1 1208.3 476.4Z" fill="#3f68b5"/>
<path d="M1241.7 476.4Q1244.9 474.4 1246.9 477.7Q1250.6 478 1250.7 482.4Q1254 484.4 1252 488Q1254.9 491.2 1252.5 493.2Q1252.9 497 1249 497.5Q1247.8 501 1244.3 499.6Q1241.7 501.9 1239.1 498.8Q1235.2 500.1 1234 496.6Q1230.1 495.5 1231 491.4Q1228.4 488.5 1231.4 485.4Q1230.3 481.5 1234 480.3Q1234.2 476.4 1237.4 477.2Q1239 474.1 1241.7 476.4Z" fill="#3f68b5"/>
<path d="M1274.5 476.4Q1277.7 474.4 1279.7 477.7Q1283.4 478 1283.5 482.4Q1286.8 484.4 1284.8 488Q1287.7 491.2 1285.2 493.2Q1285.7 497 1281.8 497.5Q1280.6 501 1277.1 499.6Q1274.5 501.9 1271.9 498.8Q1268 500.1 1266.8 496.6Q1262.9 495.5 1263.8 491.4Q1261.2 488.5 1264.2 485.4Q1263.1 481.5 1266.8 480.3Q1267 476.4 1270.2 477.2Q1271.8 474.1 1274.5 476.4Z" fill="#3f68b5"/>
<polygon points="1192.7,493 1196.9,493.6 1194.4,502.6 1190.2,502" fill="#6f3510"/>
<polygon points="1192.7,493 1194.6,493.3 1192.1,502.3 1190.2,502" fill="#96501f"/>
<path d="M1198.3 469Q1202 466.6 1204.3 470.5Q1208.7 470.9 1208.8 476Q1212.6 478.4 1210.3 482.5Q1213.7 486.3 1210.8 488.5Q1211.3 493 1206.8 493.5Q1205.4 497.6 1201.3 496Q1198.3 498.7 1195.3 495Q1190.8 496.6 1189.3 492.5Q1184.9 491.2 1185.8 486.5Q1182.9 483.1 1186.3 479.5Q1185 474.9 1189.3 473.5Q1189.6 469.1 1193.3 470Q1195.2 466.4 1198.3 469Z" fill="#6aa548"/>
<circle cx="1193.8" cy="476.5" r="6" fill="#86bd5f"/>
<circle cx="1190.8" cy="484" r="4.8" fill="#80b759"/>
<circle cx="1194.3" cy="490.5" r="4.2" fill="#86bd5f"/>
<circle cx="1201.3" cy="492" r="3.4" fill="#8dc465"/>
<circle cx="1203.8" cy="476" r="5.6" fill="#3f7a3c"/>
<circle cx="1206.8" cy="482.5" r="3.6" fill="#4a873f"/>
<circle cx="1199.8" cy="481.5" r="3.6" fill="#3a7238"/>
<circle cx="1200.3" cy="487" r="3.4" fill="#4f8c3d"/>
<circle cx="1198.3" cy="472.5" r="3" fill="#7fb658"/>
<circle cx="1204.8" cy="488" r="3.2" fill="#8dc465"/>
<circle cx="1196.8" cy="485" r="2.4" fill="#90c768"/>
<circle cx="1205.8" cy="479" r="1.8" fill="#8dc465"/>
<circle cx="1189.3" cy="478.5" r="2.2" fill="#5c9843"/>
<polygon points="1226.1,493 1230.3,493.6 1227.8,502.6 1223.6,502" fill="#6f3510"/>
<polygon points="1226.1,493 1228,493.3 1225.5,502.3 1223.6,502" fill="#96501f"/>
<path d="M1231.7 469Q1235.4 466.6 1237.7 470.5Q1242.1 470.9 1242.2 476Q1246 478.4 1243.7 482.5Q1247.1 486.3 1244.2 488.5Q1244.7 493 1240.2 493.5Q1238.8 497.6 1234.7 496Q1231.7 498.7 1228.7 495Q1224.2 496.6 1222.7 492.5Q1218.3 491.2 1219.2 486.5Q1216.3 483.1 1219.7 479.5Q1218.4 474.9 1222.7 473.5Q1223 469.1 1226.7 470Q1228.6 466.4 1231.7 469Z" fill="#6aa548"/>
<circle cx="1227.2" cy="476.5" r="6" fill="#86bd5f"/>
<circle cx="1224.2" cy="484" r="4.8" fill="#80b759"/>
<circle cx="1227.7" cy="490.5" r="4.2" fill="#86bd5f"/>
<circle cx="1234.7" cy="492" r="3.4" fill="#8dc465"/>
<circle cx="1237.2" cy="476" r="5.6" fill="#3f7a3c"/>
<circle cx="1240.2" cy="482.5" r="3.6" fill="#4a873f"/>
<circle cx="1233.2" cy="481.5" r="3.6" fill="#3a7238"/>
<circle cx="1233.7" cy="487" r="3.4" fill="#4f8c3d"/>
<circle cx="1231.7" cy="472.5" r="3" fill="#7fb658"/>
<circle cx="1238.2" cy="488" r="3.2" fill="#8dc465"/>
<circle cx="1230.2" cy="485" r="2.4" fill="#90c768"/>
<circle cx="1239.2" cy="479" r="1.8" fill="#8dc465"/>
<circle cx="1222.7" cy="478.5" r="2.2" fill="#5c9843"/>
<polygon points="1258.9,493 1263.1,493.6 1260.6,502.6 1256.4,502" fill="#6f3510"/>
<polygon points="1258.9,493 1260.8,493.3 1258.3,502.3 1256.4,502" fill="#96501f"/>
<path d="M1264.5 469Q1268.2 466.6 1270.5 470.5Q1274.9 470.9 1275 476Q1278.8 478.4 1276.5 482.5Q1279.9 486.3 1277 488.5Q1277.5 493 1273 493.5Q1271.6 497.6 1267.5 496Q1264.5 498.7 1261.5 495Q1257 496.6 1255.5 492.5Q1251.1 491.2 1252 486.5Q1249.1 483.1 1252.5 479.5Q1251.2 474.9 1255.5 473.5Q1255.8 469.1 1259.5 470Q1261.4 466.4 1264.5 469Z" fill="#6aa548"/>
<circle cx="1260" cy="476.5" r="6" fill="#86bd5f"/>
<circle cx="1257" cy="484" r="4.8" fill="#80b759"/>
<circle cx="1260.5" cy="490.5" r="4.2" fill="#86bd5f"/>
<circle cx="1267.5" cy="492" r="3.4" fill="#8dc465"/>
<circle cx="1270" cy="476" r="5.6" fill="#3f7a3c"/>
<circle cx="1273" cy="482.5" r="3.6" fill="#4a873f"/>
<circle cx="1266" cy="481.5" r="3.6" fill="#3a7238"/>
<circle cx="1266.5" cy="487" r="3.4" fill="#4f8c3d"/>
<circle cx="1264.5" cy="472.5" r="3" fill="#7fb658"/>
<circle cx="1271" cy="488" r="3.2" fill="#8dc465"/>
<circle cx="1263" cy="485" r="2.4" fill="#90c768"/>
<circle cx="1272" cy="479" r="1.8" fill="#8dc465"/>
<circle cx="1255.5" cy="478.5" r="2.2" fill="#5c9843"/>
<path d="M1328.5 477.9Q1331.7 475.9 1333.7 479.2Q1337.4 479.5 1337.5 483.9Q1340.8 485.9 1338.8 489.5Q1341.7 492.7 1339.2 494.7Q1339.7 498.5 1335.8 499Q1334.6 502.5 1331.1 501.1Q1328.5 503.4 1325.9 500.2Q1322 501.6 1320.8 498.1Q1316.9 497 1317.8 492.9Q1315.2 490 1318.2 486.9Q1317.1 483 1320.8 481.8Q1321 477.9 1324.2 478.8Q1325.8 475.6 1328.5 477.9Z" fill="#3f68b5"/>
<path d="M1361 477.9Q1364.2 475.9 1366.2 479.2Q1369.9 479.5 1370 483.9Q1373.3 485.9 1371.3 489.5Q1374.2 492.7 1371.8 494.7Q1372.2 498.5 1368.3 499Q1367.1 502.5 1363.6 501.1Q1361 503.4 1358.4 500.2Q1354.5 501.6 1353.3 498.1Q1349.4 497 1350.2 492.9Q1347.7 490 1350.7 486.9Q1349.6 483 1353.3 481.8Q1353.5 477.9 1356.7 478.8Q1358.3 475.6 1361 477.9Z" fill="#3f68b5"/>
<path d="M1394.3 477.9Q1397.5 475.9 1399.5 479.2Q1403.2 479.5 1403.3 483.9Q1406.6 485.9 1404.6 489.5Q1407.5 492.7 1405 494.7Q1405.5 498.5 1401.6 499Q1400.4 502.5 1396.9 501.1Q1394.3 503.4 1391.7 500.2Q1387.8 501.6 1386.6 498.1Q1382.7 497 1383.5 492.9Q1381 490 1384 486.9Q1382.9 483 1386.6 481.8Q1386.8 477.9 1390 478.8Q1391.6 475.6 1394.3 477.9Z" fill="#3f68b5"/>
<polygon points="1312.9,494.5 1317.1,495.1 1314.6,504.1 1310.4,503.5" fill="#6f3510"/>
<polygon points="1312.9,494.5 1314.8,494.8 1312.3,503.8 1310.4,503.5" fill="#96501f"/>
<path d="M1318.5 470.5Q1322.2 468.1 1324.5 472Q1328.9 472.4 1329 477.5Q1332.8 479.9 1330.5 484Q1333.9 487.8 1331 490Q1331.5 494.5 1327 495Q1325.6 499.1 1321.5 497.5Q1318.5 500.2 1315.5 496.5Q1311 498.1 1309.5 494Q1305.1 492.7 1306 488Q1303.1 484.6 1306.5 481Q1305.2 476.4 1309.5 475Q1309.8 470.6 1313.5 471.5Q1315.4 467.9 1318.5 470.5Z" fill="#6aa548"/>
<circle cx="1314" cy="478" r="6" fill="#86bd5f"/>
<circle cx="1311" cy="485.5" r="4.8" fill="#80b759"/>
<circle cx="1314.5" cy="492" r="4.2" fill="#86bd5f"/>
<circle cx="1321.5" cy="493.5" r="3.4" fill="#8dc465"/>
<circle cx="1324" cy="477.5" r="5.6" fill="#3f7a3c"/>
<circle cx="1327" cy="484" r="3.6" fill="#4a873f"/>
<circle cx="1320" cy="483" r="3.6" fill="#3a7238"/>
<circle cx="1320.5" cy="488.5" r="3.4" fill="#4f8c3d"/>
<circle cx="1318.5" cy="474" r="3" fill="#7fb658"/>
<circle cx="1325" cy="489.5" r="3.2" fill="#8dc465"/>
<circle cx="1317" cy="486.5" r="2.4" fill="#90c768"/>
<circle cx="1326" cy="480.5" r="1.8" fill="#8dc465"/>
<circle cx="1309.5" cy="480" r="2.2" fill="#5c9843"/>
<polygon points="1345.4,494.5 1349.6,495.1 1347.1,504.1 1342.9,503.5" fill="#6f3510"/>
<polygon points="1345.4,494.5 1347.3,494.8 1344.8,503.8 1342.9,503.5" fill="#96501f"/>
<path d="M1351 470.5Q1354.7 468.1 1357 472Q1361.4 472.4 1361.5 477.5Q1365.3 479.9 1363 484Q1366.4 487.8 1363.5 490Q1364 494.5 1359.5 495Q1358.1 499.1 1354 497.5Q1351 500.2 1348 496.5Q1343.5 498.1 1342 494Q1337.6 492.7 1338.5 488Q1335.6 484.6 1339 481Q1337.7 476.4 1342 475Q1342.3 470.6 1346 471.5Q1347.9 467.9 1351 470.5Z" fill="#6aa548"/>
<circle cx="1346.5" cy="478" r="6" fill="#86bd5f"/>
<circle cx="1343.5" cy="485.5" r="4.8" fill="#80b759"/>
<circle cx="1347" cy="492" r="4.2" fill="#86bd5f"/>
<circle cx="1354" cy="493.5" r="3.4" fill="#8dc465"/>
<circle cx="1356.5" cy="477.5" r="5.6" fill="#3f7a3c"/>
<circle cx="1359.5" cy="484" r="3.6" fill="#4a873f"/>
<circle cx="1352.5" cy="483" r="3.6" fill="#3a7238"/>
<circle cx="1353" cy="488.5" r="3.4" fill="#4f8c3d"/>
<circle cx="1351" cy="474" r="3" fill="#7fb658"/>
<circle cx="1357.5" cy="489.5" r="3.2" fill="#8dc465"/>
<circle cx="1349.5" cy="486.5" r="2.4" fill="#90c768"/>
<circle cx="1358.5" cy="480.5" r="1.8" fill="#8dc465"/>
<circle cx="1342" cy="480" r="2.2" fill="#5c9843"/>
<polygon points="1378.7,494.5 1382.9,495.1 1380.4,504.1 1376.2,503.5" fill="#6f3510"/>
<polygon points="1378.7,494.5 1380.6,494.8 1378.1,503.8 1376.2,503.5" fill="#96501f"/>
<path d="M1384.3 470.5Q1388 468.1 1390.3 472Q1394.7 472.4 1394.8 477.5Q1398.6 479.9 1396.3 484Q1399.7 487.8 1396.8 490Q1397.3 494.5 1392.8 495Q1391.4 499.1 1387.3 497.5Q1384.3 500.2 1381.3 496.5Q1376.8 498.1 1375.3 494Q1370.9 492.7 1371.8 488Q1368.9 484.6 1372.3 481Q1371 476.4 1375.3 475Q1375.6 470.6 1379.3 471.5Q1381.2 467.9 1384.3 470.5Z" fill="#6aa548"/>
<circle cx="1379.8" cy="478" r="6" fill="#86bd5f"/>
<circle cx="1376.8" cy="485.5" r="4.8" fill="#80b759"/>
<circle cx="1380.3" cy="492" r="4.2" fill="#86bd5f"/>
<circle cx="1387.3" cy="493.5" r="3.4" fill="#8dc465"/>
<circle cx="1389.8" cy="477.5" r="5.6" fill="#3f7a3c"/>
<circle cx="1392.8" cy="484" r="3.6" fill="#4a873f"/>
<circle cx="1385.8" cy="483" r="3.6" fill="#3a7238"/>
<circle cx="1386.3" cy="488.5" r="3.4" fill="#4f8c3d"/>
<circle cx="1384.3" cy="474" r="3" fill="#7fb658"/>
<circle cx="1390.8" cy="489.5" r="3.2" fill="#8dc465"/>
<circle cx="1382.8" cy="486.5" r="2.4" fill="#90c768"/>
<circle cx="1391.8" cy="480.5" r="1.8" fill="#8dc465"/>
<circle cx="1375.3" cy="480" r="2.2" fill="#5c9843"/>
<path d="M1240 545.5 L1212 545.5 C1195 545.5 1186 555 1187.5 571 L1202.5 729.5 L1214 726 L1200 572 C1199 561 1204 556.5 1214 556.5 L1240 556.5 Z" fill="#b7bacd"/>
<path d="M1240 546.6 L1213 546.6 C1197 546.6 1189 556 1190.4 571 L1204.6 728" fill="none" stroke="#e4e6ef" stroke-width="1.5"/>
<path d="M1200.6 576 L1214 726 L1210.6 727 L1197.6 577 Z" fill="#3f66ae"/>
<polyline points="1203,557.6 1240,557.2" fill="none" stroke="#8f9bc0" stroke-width="1.2" />
<polygon points="1675,612 1681,609 1704.5,687 1698.5,691" fill="#c3c6d6"/>
<polygon points="1681,609 1684,610 1706.5,685 1704.5,687" fill="#9aa2bd"/>
<path d="M1644 613 L1659 611 L1678 660 Q1680 668 1672 668 Q1664 668 1661 662 Z" fill="#fbfbfd" stroke="#c9cddc" stroke-width="0.8"/>
<polygon points="1202,588.5 1211.5,587.5 1213,606 1204,607.5" fill="#f3f4f8"/>
<polygon points="1211.5,587.5 1216,590 1217.5,603.5 1213,606" fill="#3f66ae"/>
<polygon points="1202,588.5 1204,586 1213,585.5 1211.5,587.5" fill="#ffffff"/>
<path d="M1662.2 602.7Q1665.2 600.8 1667.1 603.9Q1670.7 604.2 1670.8 608.4Q1673.9 610.4 1672 613.8Q1674.7 616.8 1672.4 618.7Q1672.8 622.3 1669.1 622.7Q1668 626.1 1664.7 624.8Q1662.2 627 1659.7 624Q1656.1 625.2 1654.8 621.9Q1651.2 620.9 1652 617Q1649.6 614.3 1652.4 611.3Q1651.4 607.6 1654.8 606.4Q1655.1 602.8 1658.1 603.5Q1659.7 600.6 1662.2 602.7Z" fill="#3f68b5"/>
<path d="M1670.2 626.7Q1673.2 624.8 1675.1 627.9Q1678.7 628.2 1678.8 632.4Q1681.9 634.4 1680 637.8Q1682.7 640.8 1680.4 642.7Q1680.8 646.3 1677.1 646.7Q1676 650.1 1672.7 648.8Q1670.2 651 1667.7 648Q1664.1 649.2 1662.8 645.9Q1659.2 644.9 1660 641Q1657.6 638.3 1660.4 635.3Q1659.4 631.6 1662.8 630.4Q1663.1 626.8 1666.1 627.5Q1667.7 624.6 1670.2 626.7Z" fill="#3f68b5"/>
<polygon points="1273.9,601.6 1468.1,601.2 1470.5,612 1275.8,612.6" fill="#3f66ae"/>
<polygon points="1265.5,602.1 1268,602.1 1277,646.6 1274.2,646.6" fill="#fbfbfe"/>
<polygon points="1273.3,637.4 1286.5,637.4 1287.5,646.1 1274.2,646.1" fill="#fbfbfe" stroke="#d5d9e6" stroke-width="0.5"/>
<polygon points="1269.5,602.1 1297.5,602.1 1284.5,636.1 1275.5,632.1" fill="#3f66ae"/>
<polygon points="1278,607.1 1285,607.1 1280.5,621.1 1273.5,621.1" fill="#d3d6e1"/>
<polygon points="1287.5,602.1 1295.1,602.1 1283.8,635.6 1276.1,637.1" fill="#bcc0d0"/>
<polygon points="1287.5,602.1 1291.5,602.1 1279.9,636.3 1276.1,637.1" fill="#d9dce6"/>
<polygon points="1380.5,602.1 1383,602.1 1392,646.6 1389.2,646.6" fill="#fbfbfe"/>
<polygon points="1388.3,637.4 1401.5,637.4 1402.5,646.1 1389.2,646.1" fill="#fbfbfe" stroke="#d5d9e6" stroke-width="0.5"/>
<polygon points="1384.5,602.1 1412.5,602.1 1399.5,636.1 1390.5,632.1" fill="#3f66ae"/>
<polygon points="1393,607.1 1400,607.1 1395.5,621.1 1388.5,621.1" fill="#d3d6e1"/>
<polygon points="1402.5,602.1 1410.1,602.1 1398.8,635.6 1391.1,637.1" fill="#bcc0d0"/>
<polygon points="1402.5,602.1 1406.5,602.1 1394.9,636.3 1391.1,637.1" fill="#d9dce6"/>
<g transform="translate(1408.3 606.5)"><path d="M1 18C-0.4 26 0.6 33 3 37C10 41.4 24 41.6 30.6 37.6C33.6 32 33.6 24 32 17L28 4L4 4Z" fill="#ffffff" stroke="#c3cbe2" stroke-width="0.7"/><path d="M2.6 36.4C9 41.6 24 42 31 37.6" fill="none" stroke="#9fb0dc" stroke-width="1"/><path d="M3.6 3.5C10 1.6 22 1.6 27.6 3.6L30 15.6C22 18.6 10 18.6 1.8 15.6Z" fill="#dddbd5"/><path d="M1.8 15.4C10 18.6 22 18.6 30 15.4L30.2 16.6C22 20 10 20 1.6 16.8Z" fill="#77797e"/><path d="M2.6 -4L5.6 -4L3.4 6L1.2 14L0.4 10Z" fill="#10131c"/><path d="M0.6 24C0.2 28 1 32 2.6 35L4 34C2.8 31 2.2 28 2.4 24Z" fill="#23262e"/><path d="M29.6 12.4L33.6 11L33.2 13.4L30 14Z" fill="#2f62c8"/><path d="M12 33L22.6 33.2L22 35L12.6 34.8Z" fill="#2b2e36"/><rect x="15.4" y="36.6" width="5.6" height="1.8" fill="#35c550"/><path d="M4 30C10 33.6 24 33.8 30 30.6" fill="none" stroke="#d5d9e6" stroke-width="0.7"/></g>
<polygon points="1235.6,523.3 1441.1,521.6 1465.3,601.2 1252.8,601.7" fill="#fafbfd"/>
<polyline points="1252.9,602.2 1465.4,601.8" fill="none" stroke="#b7bbcd" stroke-width="1.2" />
<polyline points="1235.6,523.3 1252.8,601.7" fill="none" stroke="#d9dce8" stroke-width="0.8" />
<polygon points="1260.2,585.7 1456.3,585.5 1456.2,593.1 1262.4,593.4" fill="#c9ccd9"/>
<polygon points="1245.6,519 1260.2,585.7 1262.4,593.4 1241.1,524.4" fill="#c3c6d5"/>
<polygon points="1245.6,519 1437.2,520.5 1456.3,585.5 1260.2,585.7" fill="#f7f8fb"/>
<polygon points="1253.5,523.4 1432.7,524.3 1444.7,578.5 1262.7,578.5" fill="#3f8be6"/>
<path d="M1258.1 551L1438.7 551.4" fill="none" stroke="#bcd6f8" stroke-width="1.1"/>
<path d="M1271.4 523.5L1280.9 578.5M1289.3 523.6L1299.1 578.5M1307.3 523.7L1317.3 578.5M1325.2 523.8L1335.5 578.5M1343.1 523.8L1353.7 578.5M1361 523.9L1371.9 578.5M1378.9 524L1390.1 578.5M1396.9 524.1L1408.3 578.5M1414.8 524.2L1426.5 578.5" fill="none" stroke="#ffffff" stroke-width="1.1" stroke-opacity="0.95"/>
<polygon points="1481.4,602.6 1667.7,602.6 1671.3,613.6 1483,613.6" fill="#3f66ae"/>
<polygon points="1473,603.1 1475.5,603.1 1484.5,647.6 1481.7,647.6" fill="#fbfbfe"/>
<polygon points="1480.8,638.4 1494,638.4 1495,647.1 1481.7,647.1" fill="#fbfbfe" stroke="#d5d9e6" stroke-width="0.5"/>
<polygon points="1477,603.1 1505,603.1 1492,637.1 1483,633.1" fill="#3f66ae"/>
<polygon points="1485.5,608.1 1492.5,608.1 1488,622.1 1481,622.1" fill="#d3d6e1"/>
<polygon points="1495,603.1 1502.6,603.1 1491.3,636.6 1483.6,638.1" fill="#bcc0d0"/>
<polygon points="1495,603.1 1499,603.1 1487.4,637.3 1483.6,638.1" fill="#d9dce6"/>
<polygon points="1584,603.1 1586.5,603.1 1595.5,647.6 1592.7,647.6" fill="#fbfbfe"/>
<polygon points="1591.8,638.4 1605,638.4 1606,647.1 1592.7,647.1" fill="#fbfbfe" stroke="#d5d9e6" stroke-width="0.5"/>
<polygon points="1588,603.1 1616,603.1 1603,637.1 1594,633.1" fill="#3f66ae"/>
<polygon points="1596.5,608.1 1603.5,608.1 1599,622.1 1592,622.1" fill="#d3d6e1"/>
<polygon points="1606,603.1 1613.6,603.1 1602.3,636.6 1594.6,638.1" fill="#bcc0d0"/>
<polygon points="1606,603.1 1610,603.1 1598.4,637.3 1594.6,638.1" fill="#d9dce6"/>
<g transform="translate(1505.8 606.5)"><path d="M1 18C-0.4 26 0.6 33 3 37C10 41.4 24 41.6 30.6 37.6C33.6 32 33.6 24 32 17L28 4L4 4Z" fill="#ffffff" stroke="#c3cbe2" stroke-width="0.7"/><path d="M2.6 36.4C9 41.6 24 42 31 37.6" fill="none" stroke="#9fb0dc" stroke-width="1"/><path d="M3.6 3.5C10 1.6 22 1.6 27.6 3.6L30 15.6C22 18.6 10 18.6 1.8 15.6Z" fill="#dddbd5"/><path d="M1.8 15.4C10 18.6 22 18.6 30 15.4L30.2 16.6C22 20 10 20 1.6 16.8Z" fill="#77797e"/><path d="M2.6 -4L5.6 -4L3.4 6L1.2 14L0.4 10Z" fill="#10131c"/><path d="M0.6 24C0.2 28 1 32 2.6 35L4 34C2.8 31 2.2 28 2.4 24Z" fill="#23262e"/><path d="M29.6 12.4L33.6 11L33.2 13.4L30 14Z" fill="#2f62c8"/><path d="M12 33L22.6 33.2L22 35L12.6 34.8Z" fill="#2b2e36"/><rect x="15.4" y="36.6" width="5.6" height="1.8" fill="#35c550"/><path d="M4 30C10 33.6 24 33.8 30 30.6" fill="none" stroke="#d5d9e6" stroke-width="0.7"/></g>
<g transform="translate(1612.5 606.5)"><path d="M1 18C-0.4 26 0.6 33 3 37C10 41.4 24 41.6 30.6 37.6C33.6 32 33.6 24 32 17L28 4L4 4Z" fill="#ffffff" stroke="#c3cbe2" stroke-width="0.7"/><path d="M2.6 36.4C9 41.6 24 42 31 37.6" fill="none" stroke="#9fb0dc" stroke-width="1"/><path d="M3.6 3.5C10 1.6 22 1.6 27.6 3.6L30 15.6C22 18.6 10 18.6 1.8 15.6Z" fill="#dddbd5"/><path d="M1.8 15.4C10 18.6 22 18.6 30 15.4L30.2 16.6C22 20 10 20 1.6 16.8Z" fill="#77797e"/><path d="M2.6 -4L5.6 -4L3.4 6L1.2 14L0.4 10Z" fill="#10131c"/><path d="M0.6 24C0.2 28 1 32 2.6 35L4 34C2.8 31 2.2 28 2.4 24Z" fill="#23262e"/><path d="M29.6 12.4L33.6 11L33.2 13.4L30 14Z" fill="#2f62c8"/><path d="M12 33L22.6 33.2L22 35L12.6 34.8Z" fill="#2b2e36"/><rect x="15.4" y="36.6" width="5.6" height="1.8" fill="#35c550"/><path d="M4 30C10 33.6 24 33.8 30 30.6" fill="none" stroke="#d5d9e6" stroke-width="0.7"/></g>
<polygon points="1454.1,524.8 1647,522.1 1681.3,602.6 1463.9,602.6" fill="#fafbfd"/>
<polyline points="1464,603.2 1681.5,603.2" fill="none" stroke="#b7bbcd" stroke-width="1.2" />
<polyline points="1454.1,524.8 1463.9,602.6" fill="none" stroke="#d9dce8" stroke-width="0.8" />
<polygon points="1467.7,586.7 1670,586.7 1670.7,594.4 1469.6,594.4" fill="#c9ccd9"/>
<polygon points="1455.3,520.4 1467.7,586.7 1469.6,594.4 1450.6,525.9" fill="#c3c6d5"/>
<polygon points="1455.3,520.4 1643.1,521 1670,586.7 1467.7,586.7" fill="#f7f8fb"/>
<polygon points="1463,524.8 1641.7,524.8 1660,579.6 1470.5,579.6" fill="#3f8be6"/>
<path d="M1466.8 552.2L1650.8 552.2" fill="none" stroke="#bcd6f8" stroke-width="1.1"/>
<path d="M1480.9 524.8L1489.5 579.6M1498.7 524.8L1508.4 579.6M1516.6 524.8L1527.3 579.6M1534.5 524.8L1546.3 579.6M1552.3 524.8L1565.2 579.6M1570.2 524.8L1584.2 579.6M1588.1 524.8L1603.2 579.6M1606 524.8L1622.1 579.6M1623.8 524.8L1641 579.6" fill="none" stroke="#ffffff" stroke-width="1.1" stroke-opacity="0.95"/>
<polygon points="1658.7,619 1662.8,619.6 1660.7,627.2 1656.5,626.6" fill="#6f3510"/>
<polygon points="1658.7,619 1660.5,619.3 1658.4,626.9 1656.5,626.6" fill="#96501f"/>
<path d="M1666 593.8Q1669.9 591.3 1672.3 595.4Q1676.9 595.8 1677 601.2Q1681 603.7 1678.6 608Q1682.1 611.9 1679.1 614.3Q1679.6 619 1674.9 619.5Q1673.5 623.9 1669.2 622.2Q1666 625 1662.8 621.1Q1658.1 622.8 1656.5 618.5Q1651.9 617.2 1652.9 612.2Q1649.8 608.7 1653.4 604.9Q1652.1 600 1656.5 598.5Q1656.8 593.9 1660.8 594.9Q1662.7 591.1 1666 593.8Z" fill="#6aa548"/>
<circle cx="1661.3" cy="601.7" r="6.3" fill="#86bd5f"/>
<circle cx="1658.1" cy="609.6" r="5" fill="#80b759"/>
<circle cx="1661.8" cy="616.4" r="4.4" fill="#86bd5f"/>
<circle cx="1669.2" cy="618" r="3.6" fill="#8dc465"/>
<circle cx="1671.8" cy="601.2" r="5.9" fill="#3f7a3c"/>
<circle cx="1674.9" cy="608" r="3.8" fill="#4a873f"/>
<circle cx="1667.6" cy="607" r="3.8" fill="#3a7238"/>
<circle cx="1668.1" cy="612.7" r="3.6" fill="#4f8c3d"/>
<circle cx="1666" cy="597.5" r="3.2" fill="#7fb658"/>
<circle cx="1672.8" cy="613.8" r="3.4" fill="#8dc465"/>
<circle cx="1664.4" cy="610.6" r="2.5" fill="#90c768"/>
<circle cx="1673.9" cy="604.3" r="1.9" fill="#8dc465"/>
<circle cx="1656.5" cy="603.8" r="2.3" fill="#5c9843"/>
<polygon points="1667.7,643 1671.8,643.6 1669.7,651.2 1665.5,650.6" fill="#6f3510"/>
<polygon points="1667.7,643 1669.5,643.3 1667.4,650.9 1665.5,650.6" fill="#96501f"/>
<path d="M1675 617.8Q1678.9 615.3 1681.3 619.4Q1685.9 619.8 1686 625.2Q1690 627.7 1687.6 632Q1691.1 635.9 1688.1 638.3Q1688.6 643 1683.9 643.5Q1682.5 647.9 1678.2 646.2Q1675 649 1671.8 645.1Q1667.1 646.8 1665.5 642.5Q1660.9 641.2 1661.9 636.2Q1658.8 632.7 1662.4 628.9Q1661.1 624 1665.5 622.5Q1665.8 617.9 1669.8 618.9Q1671.7 615.1 1675 617.8Z" fill="#6aa548"/>
<circle cx="1670.3" cy="625.7" r="6.3" fill="#86bd5f"/>
<circle cx="1667.1" cy="633.6" r="5" fill="#80b759"/>
<circle cx="1670.8" cy="640.4" r="4.4" fill="#86bd5f"/>
<circle cx="1678.2" cy="642" r="3.6" fill="#8dc465"/>
<circle cx="1680.8" cy="625.2" r="5.9" fill="#3f7a3c"/>
<circle cx="1683.9" cy="632" r="3.8" fill="#4a873f"/>
<circle cx="1676.6" cy="631" r="3.8" fill="#3a7238"/>
<circle cx="1677.1" cy="636.7" r="3.6" fill="#4f8c3d"/>
<circle cx="1675" cy="621.5" r="3.2" fill="#7fb658"/>
<circle cx="1681.8" cy="637.8" r="3.4" fill="#8dc465"/>
<circle cx="1673.4" cy="634.6" r="2.5" fill="#90c768"/>
<circle cx="1682.9" cy="628.3" r="1.9" fill="#8dc465"/>
<circle cx="1665.5" cy="627.8" r="2.3" fill="#5c9843"/>
<g transform="translate(1229.5 677.5) scale(1)"><path d="M58 6C68 8 75.6 13 77 20C77.6 24 76.6 28 74 30" fill="none" stroke="#2f62c8" stroke-width="1.6"/><path d="M0.6 14C0.8 9 3 5 8 2.2C18 0.2 36 0 46 1.4C56 3.6 68 8 73.6 14C76.6 18 76.6 25 74 29C72 31.6 68 32.4 64 32.6L14 33.2C8 33 3 30 1.6 25Z" fill="#ffffff" stroke="#c3cbe2" stroke-width="0.7"/><path d="M2.6 8.4C4 5.4 6 3.6 8.6 2.8L11.4 15.6C9 16.6 7.4 18 6.2 19.6C4 17 2.6 12 2.6 8.4Z" fill="#6b6e75"/><path d="M43.6 2C47 2 50 3 52.4 5C56 9 58 14 57.6 21L52 15.6Z" fill="#5d6066"/><path d="M46 3.6C49 4 51 5 52.6 7C55 10 56.4 14 56.6 18L52.6 14.6Z" fill="#a9abb0"/><path d="M11.6 22.6L19 17.2L46.6 17.8L52 23.6Z" fill="#7e8188"/><path d="M21.6 17.4L23.4 17.4L20 22.8L18 22.8ZM33 17.6L34.8 17.6L35.4 23L33.6 23Z" fill="#ffffff"/><path d="M11 24L52.6 24.4" stroke="#d5d8e2" stroke-width="0.6" fill="none"/><path d="M4 22.4L7.6 21.6L8 25L5 25.6Z" fill="#e22626"/><rect x="1.4" y="12" width="1.2" height="5" fill="#5ad06a"/><ellipse cx="15.6" cy="30.6" rx="5.6" ry="3.6" fill="#555962"/><ellipse cx="15.6" cy="30.6" rx="3.4" ry="2.1" fill="#e6e8ee"/></g>
<polygon points="1288,706 1297,712 1294,730 1287,734" fill="#3f66ae"/>
<polygon points="1250.5,715 1256,715 1256,733.5 1250.5,733" fill="#dfe2ec"/>
<polygon points="1256,715 1288,715 1287.5,734 1256,733.5" fill="#2f7fd8"/>
<polygon points="1254.8,704 1293,704 1293,714 1254.8,714" fill="#3a8ae2"/>
<polygon points="1254.8,712.5 1293,712.5 1293,714.5 1254.8,714.5" fill="#2468c0"/>
<polygon points="1259,720 1263,720 1263,733 1259,733" fill="#1d2f55"/>
<polygon points="1280,720 1284,720 1284,733 1280,733" fill="#1d2f55"/>
<polygon points="1267,720 1277,720 1277,725 1267,725" fill="#f4f6fb"/>
<g transform="translate(1238 742) scale(1)"><path d="M58 6C68 8 75.6 13 77 20C77.6 24 76.6 28 74 30" fill="none" stroke="#2f62c8" stroke-width="1.6"/><path d="M0.6 14C0.8 9 3 5 8 2.2C18 0.2 36 0 46 1.4C56 3.6 68 8 73.6 14C76.6 18 76.6 25 74 29C72 31.6 68 32.4 64 32.6L14 33.2C8 33 3 30 1.6 25Z" fill="#ffffff" stroke="#c3cbe2" stroke-width="0.7"/><path d="M2.6 8.4C4 5.4 6 3.6 8.6 2.8L11.4 15.6C9 16.6 7.4 18 6.2 19.6C4 17 2.6 12 2.6 8.4Z" fill="#6b6e75"/><path d="M43.6 2C47 2 50 3 52.4 5C56 9 58 14 57.6 21L52 15.6Z" fill="#5d6066"/><path d="M46 3.6C49 4 51 5 52.6 7C55 10 56.4 14 56.6 18L52.6 14.6Z" fill="#a9abb0"/><path d="M11.6 22.6L19 17.2L46.6 17.8L52 23.6Z" fill="#7e8188"/><path d="M21.6 17.4L23.4 17.4L20 22.8L18 22.8ZM33 17.6L34.8 17.6L35.4 23L33.6 23Z" fill="#ffffff"/><path d="M11 24L52.6 24.4" stroke="#d5d8e2" stroke-width="0.6" fill="none"/><path d="M4 22.4L7.6 21.6L8 25L5 25.6Z" fill="#e22626"/><rect x="1.4" y="12" width="1.2" height="5" fill="#5ad06a"/><ellipse cx="15.6" cy="30.6" rx="5.6" ry="3.6" fill="#555962"/><ellipse cx="15.6" cy="30.6" rx="3.4" ry="2.1" fill="#e6e8ee"/><ellipse cx="64" cy="31" rx="5.4" ry="3.4" fill="#555962"/><ellipse cx="64" cy="31" rx="3.3" ry="2" fill="#e6e8ee"/></g>
<rect x="1345" y="798.5" width="122" height="17.5" rx="8.8" fill="#c3c8d9"/>
<rect x="1345" y="797" width="122" height="16.5" rx="8.8" fill="#fbfbfd"/>
<rect x="1483" y="798.5" width="120.5" height="17.5" rx="8.8" fill="#c3c8d9"/>
<rect x="1483" y="797" width="120.5" height="16.5" rx="8.8" fill="#fbfbfd"/>
<path d="M1380.3 773.5Q1384.5 770.9 1387.1 775.2Q1392 775.6 1392.1 781.3Q1396.4 784 1393.8 788.6Q1397.5 792.8 1394.3 795.3Q1394.9 800.4 1389.9 800.9Q1388.3 805.5 1383.7 803.7Q1380.3 806.7 1377 802.6Q1372 804.3 1370.3 799.8Q1365.3 798.4 1366.4 793.1Q1363.1 789.3 1366.9 785.2Q1365.5 780.1 1370.3 778.5Q1370.6 773.6 1374.8 774.6Q1376.9 770.6 1380.3 773.5Z" fill="#3f68b5"/>
<path d="M1419.3 773.5Q1423.5 770.9 1426.1 775.2Q1431 775.6 1431.1 781.3Q1435.4 784 1432.8 788.6Q1436.5 792.8 1433.3 795.3Q1433.9 800.4 1428.9 800.9Q1427.3 805.5 1422.7 803.7Q1419.3 806.7 1416 802.6Q1411 804.3 1409.3 799.8Q1404.3 798.4 1405.4 793.1Q1402.1 789.3 1405.9 785.2Q1404.5 780.1 1409.3 778.5Q1409.6 773.6 1413.8 774.6Q1415.9 770.6 1419.3 773.5Z" fill="#3f68b5"/>
<path d="M1458.3 773.5Q1462.5 770.9 1465.1 775.2Q1470 775.6 1470.1 781.3Q1474.4 784 1471.8 788.6Q1475.5 792.8 1472.3 795.3Q1472.9 800.4 1467.9 800.9Q1466.3 805.5 1461.7 803.7Q1458.3 806.7 1455 802.6Q1450 804.3 1448.3 799.8Q1443.3 798.4 1444.4 793.1Q1441.1 789.3 1444.9 785.2Q1443.5 780.1 1448.3 778.5Q1448.6 773.6 1452.8 774.6Q1454.9 770.6 1458.3 773.5Z" fill="#3f68b5"/>
<path d="M1522.3 773.5Q1526.5 770.9 1529.1 775.2Q1534 775.6 1534.1 781.3Q1538.4 784 1535.8 788.6Q1539.5 792.8 1536.3 795.3Q1536.9 800.4 1531.9 800.9Q1530.3 805.5 1525.7 803.7Q1522.3 806.7 1519 802.6Q1514 804.3 1512.3 799.8Q1507.3 798.4 1508.4 793.1Q1505.1 789.3 1508.9 785.2Q1507.5 780.1 1512.3 778.5Q1512.6 773.6 1516.8 774.6Q1518.9 770.6 1522.3 773.5Z" fill="#3f68b5"/>
<path d="M1560.8 773.5Q1565 770.9 1567.6 775.2Q1572.5 775.6 1572.6 781.3Q1576.9 784 1574.3 788.6Q1578 792.8 1574.8 795.3Q1575.4 800.4 1570.4 800.9Q1568.8 805.5 1564.2 803.7Q1560.8 806.7 1557.5 802.6Q1552.5 804.3 1550.8 799.8Q1545.8 798.4 1546.9 793.1Q1543.6 789.3 1547.4 785.2Q1546 780.1 1550.8 778.5Q1551.1 773.6 1555.3 774.6Q1557.4 770.6 1560.8 773.5Z" fill="#3f68b5"/>
<path d="M1599.8 773.5Q1604 770.9 1606.6 775.2Q1611.5 775.6 1611.6 781.3Q1615.9 784 1613.3 788.6Q1617 792.8 1613.8 795.3Q1614.4 800.4 1609.4 800.9Q1607.8 805.5 1603.2 803.7Q1599.8 806.7 1596.5 802.6Q1591.5 804.3 1589.8 799.8Q1584.8 798.4 1585.9 793.1Q1582.6 789.3 1586.4 785.2Q1585 780.1 1589.8 778.5Q1590.1 773.6 1594.3 774.6Q1596.4 770.6 1599.8 773.5Z" fill="#3f68b5"/>
<polygon points="1365.7,798.8 1369.9,799.4 1367.8,807 1363.6,806.4" fill="#6f3510"/>
<polygon points="1365.7,798.8 1367.6,799.1 1365.5,806.7 1363.6,806.4" fill="#96501f"/>
<path d="M1374.5 769.5Q1379.1 766.6 1381.8 771.4Q1387.2 771.8 1387.3 778.1Q1392 781 1389.1 786Q1393.2 790.6 1389.8 793.3Q1390.3 798.8 1384.9 799.4Q1383.2 804.5 1378.2 802.5Q1374.5 805.8 1370.8 801.2Q1365.3 803.2 1363.5 798.2Q1358.1 796.7 1359.2 790.9Q1355.7 786.8 1359.9 782.3Q1358.3 776.7 1363.5 775Q1363.8 769.6 1368.4 770.8Q1370.7 766.3 1374.5 769.5Z" fill="#6aa548"/>
<circle cx="1369" cy="778.7" r="7.3" fill="#86bd5f"/>
<circle cx="1365.3" cy="787.8" r="5.9" fill="#80b759"/>
<circle cx="1369.6" cy="795.8" r="5.1" fill="#86bd5f"/>
<circle cx="1378.2" cy="797.6" r="4.1" fill="#8dc465"/>
<circle cx="1381.2" cy="778.1" r="6.8" fill="#3f7a3c"/>
<circle cx="1384.9" cy="786" r="4.4" fill="#4a873f"/>
<circle cx="1376.3" cy="784.8" r="4.4" fill="#3a7238"/>
<circle cx="1376.9" cy="791.5" r="4.1" fill="#4f8c3d"/>
<circle cx="1374.5" cy="773.8" r="3.7" fill="#7fb658"/>
<circle cx="1382.4" cy="792.7" r="3.9" fill="#8dc465"/>
<circle cx="1372.7" cy="789" r="2.9" fill="#90c768"/>
<circle cx="1383.7" cy="781.7" r="2.2" fill="#8dc465"/>
<circle cx="1363.5" cy="781.1" r="2.7" fill="#5c9843"/>
<polygon points="1404.7,798.8 1408.9,799.4 1406.8,807 1402.6,806.4" fill="#6f3510"/>
<polygon points="1404.7,798.8 1406.6,799.1 1404.5,806.7 1402.6,806.4" fill="#96501f"/>
<path d="M1413.5 769.5Q1418.1 766.6 1420.8 771.4Q1426.2 771.8 1426.3 778.1Q1431 781 1428.1 786Q1432.2 790.6 1428.8 793.3Q1429.3 798.8 1423.9 799.4Q1422.2 804.5 1417.2 802.5Q1413.5 805.8 1409.8 801.2Q1404.3 803.2 1402.5 798.2Q1397.1 796.7 1398.2 790.9Q1394.7 786.8 1398.9 782.3Q1397.3 776.7 1402.5 775Q1402.8 769.6 1407.4 770.8Q1409.7 766.3 1413.5 769.5Z" fill="#6aa548"/>
<circle cx="1408" cy="778.7" r="7.3" fill="#86bd5f"/>
<circle cx="1404.3" cy="787.8" r="5.9" fill="#80b759"/>
<circle cx="1408.6" cy="795.8" r="5.1" fill="#86bd5f"/>
<circle cx="1417.2" cy="797.6" r="4.1" fill="#8dc465"/>
<circle cx="1420.2" cy="778.1" r="6.8" fill="#3f7a3c"/>
<circle cx="1423.9" cy="786" r="4.4" fill="#4a873f"/>
<circle cx="1415.3" cy="784.8" r="4.4" fill="#3a7238"/>
<circle cx="1415.9" cy="791.5" r="4.1" fill="#4f8c3d"/>
<circle cx="1413.5" cy="773.8" r="3.7" fill="#7fb658"/>
<circle cx="1421.4" cy="792.7" r="3.9" fill="#8dc465"/>
<circle cx="1411.7" cy="789" r="2.9" fill="#90c768"/>
<circle cx="1422.7" cy="781.7" r="2.2" fill="#8dc465"/>
<circle cx="1402.5" cy="781.1" r="2.7" fill="#5c9843"/>
<polygon points="1443.7,798.8 1447.9,799.4 1445.8,807 1441.6,806.4" fill="#6f3510"/>
<polygon points="1443.7,798.8 1445.6,799.1 1443.5,806.7 1441.6,806.4" fill="#96501f"/>
<path d="M1452.5 769.5Q1457.1 766.6 1459.8 771.4Q1465.2 771.8 1465.3 778.1Q1470 781 1467.1 786Q1471.2 790.6 1467.8 793.3Q1468.3 798.8 1462.9 799.4Q1461.2 804.5 1456.2 802.5Q1452.5 805.8 1448.8 801.2Q1443.3 803.2 1441.5 798.2Q1436.1 796.7 1437.2 790.9Q1433.7 786.8 1437.9 782.3Q1436.3 776.7 1441.5 775Q1441.8 769.6 1446.4 770.8Q1448.7 766.3 1452.5 769.5Z" fill="#6aa548"/>
<circle cx="1447" cy="778.7" r="7.3" fill="#86bd5f"/>
<circle cx="1443.3" cy="787.8" r="5.9" fill="#80b759"/>
<circle cx="1447.6" cy="795.8" r="5.1" fill="#86bd5f"/>
<circle cx="1456.2" cy="797.6" r="4.1" fill="#8dc465"/>
<circle cx="1459.2" cy="778.1" r="6.8" fill="#3f7a3c"/>
<circle cx="1462.9" cy="786" r="4.4" fill="#4a873f"/>
<circle cx="1454.3" cy="784.8" r="4.4" fill="#3a7238"/>
<circle cx="1454.9" cy="791.5" r="4.1" fill="#4f8c3d"/>
<circle cx="1452.5" cy="773.8" r="3.7" fill="#7fb658"/>
<circle cx="1460.4" cy="792.7" r="3.9" fill="#8dc465"/>
<circle cx="1450.7" cy="789" r="2.9" fill="#90c768"/>
<circle cx="1461.7" cy="781.7" r="2.2" fill="#8dc465"/>
<circle cx="1441.5" cy="781.1" r="2.7" fill="#5c9843"/>
<polygon points="1507.7,798.8 1511.9,799.4 1509.8,807 1505.6,806.4" fill="#6f3510"/>
<polygon points="1507.7,798.8 1509.6,799.1 1507.5,806.7 1505.6,806.4" fill="#96501f"/>
<path d="M1516.5 769.5Q1521.1 766.6 1523.8 771.4Q1529.2 771.8 1529.3 778.1Q1534 781 1531.1 786Q1535.2 790.6 1531.8 793.3Q1532.3 798.8 1526.9 799.4Q1525.2 804.5 1520.2 802.5Q1516.5 805.8 1512.8 801.2Q1507.3 803.2 1505.5 798.2Q1500.1 796.7 1501.2 790.9Q1497.7 786.8 1501.9 782.3Q1500.3 776.7 1505.5 775Q1505.8 769.6 1510.4 770.8Q1512.7 766.3 1516.5 769.5Z" fill="#6aa548"/>
<circle cx="1511" cy="778.7" r="7.3" fill="#86bd5f"/>
<circle cx="1507.3" cy="787.8" r="5.9" fill="#80b759"/>
<circle cx="1511.6" cy="795.8" r="5.1" fill="#86bd5f"/>
<circle cx="1520.2" cy="797.6" r="4.1" fill="#8dc465"/>
<circle cx="1523.2" cy="778.1" r="6.8" fill="#3f7a3c"/>
<circle cx="1526.9" cy="786" r="4.4" fill="#4a873f"/>
<circle cx="1518.3" cy="784.8" r="4.4" fill="#3a7238"/>
<circle cx="1518.9" cy="791.5" r="4.1" fill="#4f8c3d"/>
<circle cx="1516.5" cy="773.8" r="3.7" fill="#7fb658"/>
<circle cx="1524.4" cy="792.7" r="3.9" fill="#8dc465"/>
<circle cx="1514.7" cy="789" r="2.9" fill="#90c768"/>
<circle cx="1525.7" cy="781.7" r="2.2" fill="#8dc465"/>
<circle cx="1505.5" cy="781.1" r="2.7" fill="#5c9843"/>
<polygon points="1546.2,798.8 1550.4,799.4 1548.3,807 1544.1,806.4" fill="#6f3510"/>
<polygon points="1546.2,798.8 1548.1,799.1 1546,806.7 1544.1,806.4" fill="#96501f"/>
<path d="M1555 769.5Q1559.6 766.6 1562.3 771.4Q1567.7 771.8 1567.8 778.1Q1572.5 781 1569.6 786Q1573.7 790.6 1570.2 793.3Q1570.8 798.8 1565.4 799.4Q1563.7 804.5 1558.7 802.5Q1555 805.8 1551.3 801.2Q1545.8 803.2 1544 798.2Q1538.6 796.7 1539.8 790.9Q1536.2 786.8 1540.4 782.3Q1538.8 776.7 1544 775Q1544.3 769.6 1548.9 770.8Q1551.2 766.3 1555 769.5Z" fill="#6aa548"/>
<circle cx="1549.5" cy="778.7" r="7.3" fill="#86bd5f"/>
<circle cx="1545.8" cy="787.8" r="5.9" fill="#80b759"/>
<circle cx="1550.1" cy="795.8" r="5.1" fill="#86bd5f"/>
<circle cx="1558.7" cy="797.6" r="4.1" fill="#8dc465"/>
<circle cx="1561.7" cy="778.1" r="6.8" fill="#3f7a3c"/>
<circle cx="1565.4" cy="786" r="4.4" fill="#4a873f"/>
<circle cx="1556.8" cy="784.8" r="4.4" fill="#3a7238"/>
<circle cx="1557.4" cy="791.5" r="4.1" fill="#4f8c3d"/>
<circle cx="1555" cy="773.8" r="3.7" fill="#7fb658"/>
<circle cx="1562.9" cy="792.7" r="3.9" fill="#8dc465"/>
<circle cx="1553.2" cy="789" r="2.9" fill="#90c768"/>
<circle cx="1564.2" cy="781.7" r="2.2" fill="#8dc465"/>
<circle cx="1544" cy="781.1" r="2.7" fill="#5c9843"/>
<polygon points="1585.2,798.8 1589.4,799.4 1587.3,807 1583.1,806.4" fill="#6f3510"/>
<polygon points="1585.2,798.8 1587.1,799.1 1585,806.7 1583.1,806.4" fill="#96501f"/>
<path d="M1594 769.5Q1598.6 766.6 1601.3 771.4Q1606.7 771.8 1606.8 778.1Q1611.5 781 1608.6 786Q1612.7 790.6 1609.2 793.3Q1609.8 798.8 1604.4 799.4Q1602.7 804.5 1597.7 802.5Q1594 805.8 1590.3 801.2Q1584.8 803.2 1583 798.2Q1577.6 796.7 1578.8 790.9Q1575.2 786.8 1579.4 782.3Q1577.8 776.7 1583 775Q1583.3 769.6 1587.9 770.8Q1590.2 766.3 1594 769.5Z" fill="#6aa548"/>
<circle cx="1588.5" cy="778.7" r="7.3" fill="#86bd5f"/>
<circle cx="1584.8" cy="787.8" r="5.9" fill="#80b759"/>
<circle cx="1589.1" cy="795.8" r="5.1" fill="#86bd5f"/>
<circle cx="1597.7" cy="797.6" r="4.1" fill="#8dc465"/>
<circle cx="1600.7" cy="778.1" r="6.8" fill="#3f7a3c"/>
<circle cx="1604.4" cy="786" r="4.4" fill="#4a873f"/>
<circle cx="1595.8" cy="784.8" r="4.4" fill="#3a7238"/>
<circle cx="1596.4" cy="791.5" r="4.1" fill="#4f8c3d"/>
<circle cx="1594" cy="773.8" r="3.7" fill="#7fb658"/>
<circle cx="1601.9" cy="792.7" r="3.9" fill="#8dc465"/>
<circle cx="1592.2" cy="789" r="2.9" fill="#90c768"/>
<circle cx="1603.2" cy="781.7" r="2.2" fill="#8dc465"/>
<circle cx="1583" cy="781.1" r="2.7" fill="#5c9843"/>
<g transform="translate(1598.5 732) scale(1.5 1.6)"><path d="M7 36.5C10 43 20 44.6 31 41.6C33 40 33 36 32.4 32" fill="none" stroke="#2f62c8" stroke-width="1.6"/><path d="M4.5 4C8 1.5 18 0.8 21 2L28 19L31.5 27C32.6 31 32.6 37 31 40.6C24 43.6 14 43.4 8.5 38.6L5.6 31L2 19C0.6 13 1.5 7 4.5 4Z" fill="#ffffff" stroke="#c8d0e6" stroke-width="0.7"/><path d="M4.6 5.4L8 4L11.4 21L8.6 22L4 12Z" fill="#70737c"/><path d="M5.4 6.6L7.6 5.4L10.8 19.8L8.6 20.8Z" fill="#c3c5ca"/><path d="M12 15.6L25 14.8L28.4 24.6C22 26.4 15 26.6 10 25.6Z" fill="#d8d7d2"/><path d="M10 25.4C15 26.6 22 26.4 28.4 24.4L28.6 25.4C22 27.6 15 27.8 10.2 26.6Z" fill="#8e8f92"/><path d="M21.4 2.6L22.2 2.4L27.6 17.6L26.8 18Z" fill="#6d7078"/><path d="M16.6 36L24.6 36.6L24 38.2L17 37.6Z" fill="#3b3e46"/><rect x="18" y="38.8" width="5" height="1.6" fill="#2fc24a"/><path d="M9 34.4L14.4 36.4L14 37.4L9.4 35.6Z" fill="#c9ccd6"/><path d="M26.6 37L31 35L31 36.2L27 38Z" fill="#c9ccd6"/><rect x="0.4" y="13" width="1.8" height="4.4" rx="0.8" fill="#2b2e36"/><rect x="29.6" y="25.4" width="2" height="2" fill="#2f62c8"/></g>
<g transform="translate(1640 732) scale(1.5 1.6)"><path d="M7 36.5C10 43 20 44.6 31 41.6C33 40 33 36 32.4 32" fill="none" stroke="#2f62c8" stroke-width="1.6"/><path d="M4.5 4C8 1.5 18 0.8 21 2L28 19L31.5 27C32.6 31 32.6 37 31 40.6C24 43.6 14 43.4 8.5 38.6L5.6 31L2 19C0.6 13 1.5 7 4.5 4Z" fill="#ffffff" stroke="#c8d0e6" stroke-width="0.7"/><path d="M4.6 5.4L8 4L11.4 21L8.6 22L4 12Z" fill="#70737c"/><path d="M5.4 6.6L7.6 5.4L10.8 19.8L8.6 20.8Z" fill="#c3c5ca"/><path d="M12 15.6L25 14.8L28.4 24.6C22 26.4 15 26.6 10 25.6Z" fill="#d8d7d2"/><path d="M10 25.4C15 26.6 22 26.4 28.4 24.4L28.6 25.4C22 27.6 15 27.8 10.2 26.6Z" fill="#8e8f92"/><path d="M21.4 2.6L22.2 2.4L27.6 17.6L26.8 18Z" fill="#6d7078"/><path d="M16.6 36L24.6 36.6L24 38.2L17 37.6Z" fill="#3b3e46"/><rect x="18" y="38.8" width="5" height="1.6" fill="#2fc24a"/><path d="M9 34.4L14.4 36.4L14 37.4L9.4 35.6Z" fill="#c9ccd6"/><path d="M26.6 37L31 35L31 36.2L27 38Z" fill="#c9ccd6"/><rect x="0.4" y="13" width="1.8" height="4.4" rx="0.8" fill="#2b2e36"/><rect x="29.6" y="25.4" width="2" height="2" fill="#2f62c8"/></g>
<polygon points="511.5,570 540,570 527,603 512,614" fill="#3f66ae"/>
<polygon points="463.3,563.3 508.3,563.3 500.8,593.3 455,592.5" fill="#fbfbfe"/>
<polyline points="467.1,563.3 458.8,592.6" fill="none" stroke="#b4c0f0" stroke-width="0.7" />
<polyline points="470.8,563.3 462.6,592.6" fill="none" stroke="#b4c0f0" stroke-width="0.7" />
<polyline points="474.6,563.3 466.4,592.7" fill="none" stroke="#b4c0f0" stroke-width="0.7" />
<polyline points="478.3,563.3 470.3,592.8" fill="none" stroke="#b4c0f0" stroke-width="0.7" />
<polyline points="482.1,563.3 474.1,592.8" fill="none" stroke="#b4c0f0" stroke-width="0.7" />
<polyline points="485.8,563.3 477.9,592.9" fill="none" stroke="#b4c0f0" stroke-width="0.7" />
<polyline points="489.6,563.3 481.7,593" fill="none" stroke="#b4c0f0" stroke-width="0.7" />
<polyline points="493.3,563.3 485.5,593" fill="none" stroke="#b4c0f0" stroke-width="0.7" />
<polyline points="497.1,563.3 489.4,593.1" fill="none" stroke="#b4c0f0" stroke-width="0.7" />
<polyline points="500.8,563.3 493.2,593.2" fill="none" stroke="#b4c0f0" stroke-width="0.7" />
<polyline points="504.6,563.3 497,593.2" fill="none" stroke="#b4c0f0" stroke-width="0.7" />
<polygon points="455,592.5 500.8,593.3 510,618.3 463.3,617.5" fill="url(#gWall2)"/>
<polygon points="508.3,563.3 518.3,588.3 510,618.3 500.8,593.3" fill="#35579c"/>
<polygon points="506,563.3 508.6,563.3 501.2,593.3 498.6,593.3" fill="#0c1226"/>
<polyline points="696.7,540 691.5,565" fill="none" stroke="#0f32ee" stroke-width="3" />
<polygon points="649,567.5 735,567.5 726.5,636.5 635,635.5" fill="#fbfbfe"/>
<polygon points="735,567.5 738,568 729.5,637.5 726.5,636.5" fill="#3f66ae"/>
<polyline points="635,636 726.5,637" fill="none" stroke="#c3c8da" stroke-width="1.4" />
<path d="M651.5 570 L731 570 L724 627 L640.5 626 Z" fill="none" stroke="#8fa3cf" stroke-width="1.6" stroke-dasharray="1.2 1.6"/>
<path d="M653 573 L728.5 573 L722 624 L643 623 Z" fill="none" stroke="#c4cde6" stroke-width="1.2"/>
<polygon points="713.3,570 723.3,569 721.7,606.7 713.3,606.7" fill="#3f66ae"/>
<polygon points="655,565 705.8,565 703.3,590 652.5,590" fill="#3c9af0"/>
<polygon points="655,565 705.8,565 705.2,569 654.6,569" fill="#2f8ae6"/>
<polygon points="652.5,590 703.3,590 707.5,611.7 656.7,611.7" fill="#2a7ad2"/>
<polygon points="705.8,565 713.3,581.7 713.3,605 707.5,611.7 703.3,590" fill="#1d5cb6"/>
<polyline points="669.4,590 673.6,611.7" fill="none" stroke="#1c5fb4" stroke-width="0.8" />
<polyline points="686.4,590 690.6,611.7" fill="none" stroke="#1c5fb4" stroke-width="0.8" />
<rect x="659.5" y="599.8" width="1.2" height="5" fill="#6a4a5a"/>
<rect x="658" y="594.8" width="1.4" height="1.2" fill="#e8c8a0"/>
<rect x="666.2" y="599.8" width="1.2" height="5" fill="#6a4a5a"/>
<rect x="664.7" y="594.8" width="1.4" height="1.2" fill="#e8c8a0"/>
<rect x="676.4" y="599.8" width="1.2" height="5" fill="#6a4a5a"/>
<rect x="674.9" y="594.8" width="1.4" height="1.2" fill="#e8c8a0"/>
<rect x="683.2" y="599.8" width="1.2" height="5" fill="#6a4a5a"/>
<rect x="681.7" y="594.8" width="1.4" height="1.2" fill="#e8c8a0"/>
<rect x="693.3" y="599.8" width="1.2" height="5" fill="#6a4a5a"/>
<rect x="691.8" y="594.8" width="1.4" height="1.2" fill="#e8c8a0"/>
<rect x="700.1" y="599.8" width="1.2" height="5" fill="#6a4a5a"/>
<rect x="698.6" y="594.8" width="1.4" height="1.2" fill="#e8c8a0"/>
<polyline points="524,697.3 571,697.3" fill="none" stroke="#0f32ee" stroke-width="1.6" />
<polyline points="716,697.3 770,697.3" fill="none" stroke="#0f32ee" stroke-width="1.6" />
<polygon points="520.5,673 540.5,673 537.5,699 522.5,718" fill="#3f66ae"/>
<polygon points="385.5,669 519.5,669 516.5,699 377.5,699" fill="#ffffff"/>
<polyline points="385.5,669 519.5,669" fill="none" stroke="#1a1d28" stroke-width="0.8" />
<polyline points="385.5,669 377.5,699" fill="none" stroke="#1a1d28" stroke-width="0.9" />
<polygon points="377.5,699 516.5,699 520.5,720 385.5,720" fill="#9ea3b6"/>
<path d="M379.1 699L382.7 720M382.3 699L385.9 720M385.6 699L389.1 720M388.8 699L392.3 720M392 699L395.5 720M395.3 699L398.6 720M398.5 699L401.8 720M401.7 699L405 720M405 699L408.2 720M408.2 699L411.4 720M411.4 699L414.6 720M414.7 699L417.8 720M417.9 699L421 720M421.1 699L424.2 720M424.4 699L427.4 720M427.6 699L430.6 720M430.8 699L433.7 720M434.1 699L436.9 720M437.3 699L440.1 720M440.5 699L443.3 720M443.8 699L446.5 720M447 699L449.7 720M450.2 699L452.9 720M453.5 699L456.1 720M456.7 699L459.3 720M459.9 699L462.5 720M463.2 699L465.7 720M466.4 699L468.8 720M469.6 699L472 720M472.9 699L475.2 720M476.1 699L478.4 720M479.3 699L481.6 720M482.6 699L484.8 720M485.8 699L488 720M489 699L491.2 720M492.3 699L494.4 720M495.5 699L497.6 720M498.7 699L500.8 720M502 699L503.9 720M505.2 699L507.1 720M508.4 699L510.3 720M511.7 699L513.5 720M514.9 699L516.7 720" fill="none" stroke="#f8f9fc" stroke-width="1.7"/>
<polygon points="377.5,699 379.1,699 387.1,720 385.5,720" fill="#eef0f5"/>
<polygon points="519.5,669 524.5,673 525.5,716 520.5,720 516.5,699" fill="#35579c"/>
<polyline points="519.5,669 516.5,699" fill="none" stroke="#0c1226" stroke-width="1.2" />
<polygon points="711,673 731,673 728,699 713,718" fill="#3f66ae"/>
<polygon points="577,669 710,669 707,699 569,699" fill="#ffffff"/>
<polyline points="577,669 710,669" fill="none" stroke="#1a1d28" stroke-width="0.8" />
<polyline points="577,669 569,699" fill="none" stroke="#1a1d28" stroke-width="0.9" />
<polygon points="569,699 707,699 711,720 577,720" fill="#9ea3b6"/>
<path d="M570.6 699L574.2 720M573.9 699L577.5 720M577.2 699L580.7 720M580.5 699L583.9 720M583.8 699L587.2 720M587.1 699L590.4 720M590.4 699L593.7 720M593.6 699L596.9 720M596.9 699L600.2 720M600.2 699L603.4 720M603.5 699L606.6 720M606.8 699L609.9 720M610.1 699L613.1 720M613.4 699L616.4 720M616.6 699L619.6 720M619.9 699L622.9 720M623.2 699L626.1 720M626.5 699L629.4 720M629.8 699L632.6 720M633.1 699L635.8 720M636.4 699L639.1 720M639.6 699L642.3 720M642.9 699L645.6 720M646.2 699L648.8 720M649.5 699L652 720M652.8 699L655.3 720M656.1 699L658.5 720M659.4 699L661.8 720M662.6 699L665 720M665.9 699L668.3 720M669.2 699L671.5 720M672.5 699L674.8 720M675.8 699L678 720M679.1 699L681.2 720M682.4 699L684.5 720M685.6 699L687.7 720M688.9 699L691 720M692.2 699L694.2 720M695.5 699L697.5 720M698.8 699L700.7 720M702.1 699L703.9 720M705.4 699L707.2 720" fill="none" stroke="#f8f9fc" stroke-width="1.7"/>
<polygon points="569,699 570.6,699 578.6,720 577,720" fill="#eef0f5"/>
<polygon points="710,669 715,673 716,716 711,720 707,699" fill="#35579c"/>
<polyline points="710,669 707,699" fill="none" stroke="#0c1226" stroke-width="1.2" />
<polygon points="815,652 837.5,659 837.5,712 815,722" fill="#3a5ea8"/>
<polygon points="768.5,644.5 815,644.5 815,722 770.5,722" fill="url(#gBox)"/>
<polygon points="768.5,644.5 815,644.5 815,692 769.5,692" fill="#fafbfd"/>
<polyline points="791.5,644.5 792.5,722" fill="none" stroke="#c9cddc" stroke-width="0.8" />
<polyline points="769.6,693 815,693" fill="none" stroke="#c9cddc" stroke-width="0.8" />
<rect x="776" y="696" width="7" height="3" fill="#9aa0b4"/>
<rect x="779" y="710" width="2.6" height="2.6" fill="#e8c020"/>
<rect x="799" y="696" width="7" height="3" fill="#9aa0b4"/>
<rect x="802" y="710" width="2.6" height="2.6" fill="#e8c020"/>
<rect x="414" y="797" width="120.5" height="14" rx="7" fill="#c3c8d9"/>
<rect x="414" y="795.5" width="120.5" height="13" rx="7" fill="#fbfbfd"/>
<rect x="605.5" y="797" width="130.5" height="14" rx="7" fill="#c3c8d9"/>
<rect x="605.5" y="795.5" width="130.5" height="13" rx="7" fill="#fbfbfd"/>
<path d="M452.5 767.9Q456.7 765.2 459.2 769.6Q464.1 770 464.3 775.7Q468.5 778.4 465.9 783Q469.7 787.2 466.5 789.7Q467 794.8 462 795.3Q460.5 800 455.9 798.1Q452.5 801.1 449.1 797Q444.1 798.8 442.4 794.2Q437.5 792.8 438.5 787.5Q435.2 783.7 439.1 779.6Q437.6 774.5 442.4 772.9Q442.7 768 446.9 769Q449 764.9 452.5 767.9Z" fill="#3f66ae" transform="translate(452.5 783) skewX(-20) translate(-452.5 -783)"/>
<path d="M491.5 767.9Q495.7 765.2 498.2 769.6Q503.1 770 503.3 775.7Q507.5 778.4 504.9 783Q508.7 787.2 505.5 789.7Q506 794.8 501 795.3Q499.5 800 494.9 798.1Q491.5 801.1 488.1 797Q483.1 798.8 481.4 794.2Q476.5 792.8 477.5 787.5Q474.2 783.7 478.1 779.6Q476.6 774.5 481.4 772.9Q481.7 768 485.9 769Q488 764.9 491.5 767.9Z" fill="#3f66ae" transform="translate(491.5 783) skewX(-20) translate(-491.5 -783)"/>
<path d="M530 767.9Q534.2 765.2 536.7 769.6Q541.6 770 541.8 775.7Q546 778.4 543.4 783Q547.2 787.2 544 789.7Q544.5 794.8 539.5 795.3Q538 800 533.4 798.1Q530 801.1 526.6 797Q521.6 798.8 519.9 794.2Q515 792.8 516 787.5Q512.7 783.7 516.6 779.6Q515.1 774.5 519.9 772.9Q520.2 768 524.4 769Q526.5 764.9 530 767.9Z" fill="#3f66ae" transform="translate(530 783) skewX(-20) translate(-530 -783)"/>
<path d="M645.5 767.9Q649.7 765.2 652.2 769.6Q657.1 770 657.3 775.7Q661.5 778.4 658.9 783Q662.7 787.2 659.5 789.7Q660 794.8 655 795.3Q653.5 800 648.9 798.1Q645.5 801.1 642.1 797Q637.1 798.8 635.4 794.2Q630.5 792.8 631.5 787.5Q628.2 783.7 632.1 779.6Q630.6 774.5 635.4 772.9Q635.7 768 639.9 769Q642 764.9 645.5 767.9Z" fill="#3f66ae" transform="translate(645.5 783) skewX(-20) translate(-645.5 -783)"/>
<path d="M684.5 767.9Q688.7 765.2 691.2 769.6Q696.1 770 696.3 775.7Q700.5 778.4 697.9 783Q701.7 787.2 698.5 789.7Q699 794.8 694 795.3Q692.5 800 687.9 798.1Q684.5 801.1 681.1 797Q676.1 798.8 674.4 794.2Q669.5 792.8 670.5 787.5Q667.2 783.7 671.1 779.6Q669.6 774.5 674.4 772.9Q674.7 768 678.9 769Q681 764.9 684.5 767.9Z" fill="#3f66ae" transform="translate(684.5 783) skewX(-20) translate(-684.5 -783)"/>
<path d="M723 767.9Q727.2 765.2 729.7 769.6Q734.6 770 734.8 775.7Q739 778.4 736.4 783Q740.2 787.2 737 789.7Q737.5 794.8 732.5 795.3Q731 800 726.4 798.1Q723 801.1 719.6 797Q714.6 798.8 712.9 794.2Q708 792.8 709 787.5Q705.7 783.7 709.6 779.6Q708.1 774.5 712.9 772.9Q713.2 768 717.4 769Q719.5 764.9 723 767.9Z" fill="#3f66ae" transform="translate(723 783) skewX(-20) translate(-723 -783)"/>
<polygon points="434.9,795.6 439.1,796.2 436.9,804 432.7,803.4" fill="#6f3510"/>
<polygon points="434.9,795.6 436.8,795.9 434.6,803.7 432.7,803.4" fill="#96501f"/>
<path d="M430.5 764.5Q435.4 761.4 438.3 766.4Q444 766.9 444.1 773.5Q449.1 776.6 446.1 782Q450.5 786.9 446.8 789.8Q447.4 795.7 441.6 796.3Q439.7 801.7 434.4 799.5Q430.5 803.1 426.6 798.2Q420.7 800.3 418.8 795Q413 793.4 414.2 787.2Q410.4 782.8 414.9 778.1Q413.2 772.1 418.8 770.3Q419.1 764.5 424 765.8Q426.5 761 430.5 764.5Z" fill="#6aa548"/>
<circle cx="424.6" cy="774.2" r="7.8" fill="#86bd5f"/>
<circle cx="420.8" cy="784" r="6.2" fill="#80b759"/>
<circle cx="425.3" cy="792.4" r="5.5" fill="#86bd5f"/>
<circle cx="434.4" cy="794.4" r="4.4" fill="#8dc465"/>
<circle cx="437.6" cy="773.5" r="7.3" fill="#3f7a3c"/>
<circle cx="441.6" cy="782" r="4.7" fill="#4a873f"/>
<circle cx="432.4" cy="780.7" r="4.7" fill="#3a7238"/>
<circle cx="433.1" cy="787.9" r="4.4" fill="#4f8c3d"/>
<circle cx="430.5" cy="769" r="3.9" fill="#7fb658"/>
<circle cx="438.9" cy="789.1" r="4.2" fill="#8dc465"/>
<circle cx="428.6" cy="785.2" r="3.1" fill="#90c768"/>
<circle cx="440.2" cy="777.5" r="2.3" fill="#8dc465"/>
<circle cx="418.8" cy="776.8" r="2.9" fill="#5c9843"/>
<polygon points="473.9,795.6 478.1,796.2 475.9,804 471.7,803.4" fill="#6f3510"/>
<polygon points="473.9,795.6 475.8,795.9 473.6,803.7 471.7,803.4" fill="#96501f"/>
<path d="M469.5 764.5Q474.4 761.4 477.3 766.4Q483 766.9 483.1 773.5Q488.1 776.6 485.1 782Q489.5 786.9 485.8 789.8Q486.4 795.7 480.6 796.3Q478.7 801.7 473.4 799.5Q469.5 803.1 465.6 798.2Q459.7 800.3 457.8 795Q452 793.4 453.2 787.2Q449.4 782.8 453.9 778.1Q452.2 772.1 457.8 770.3Q458.1 764.5 463 765.8Q465.5 761 469.5 764.5Z" fill="#6aa548"/>
<circle cx="463.6" cy="774.2" r="7.8" fill="#86bd5f"/>
<circle cx="459.8" cy="784" r="6.2" fill="#80b759"/>
<circle cx="464.3" cy="792.4" r="5.5" fill="#86bd5f"/>
<circle cx="473.4" cy="794.4" r="4.4" fill="#8dc465"/>
<circle cx="476.6" cy="773.5" r="7.3" fill="#3f7a3c"/>
<circle cx="480.6" cy="782" r="4.7" fill="#4a873f"/>
<circle cx="471.4" cy="780.7" r="4.7" fill="#3a7238"/>
<circle cx="472.1" cy="787.9" r="4.4" fill="#4f8c3d"/>
<circle cx="469.5" cy="769" r="3.9" fill="#7fb658"/>
<circle cx="477.9" cy="789.1" r="4.2" fill="#8dc465"/>
<circle cx="467.6" cy="785.2" r="3.1" fill="#90c768"/>
<circle cx="479.2" cy="777.5" r="2.3" fill="#8dc465"/>
<circle cx="457.8" cy="776.8" r="2.9" fill="#5c9843"/>
<polygon points="512.4,795.6 516.6,796.2 514.4,804 510.2,803.4" fill="#6f3510"/>
<polygon points="512.4,795.6 514.3,795.9 512.1,803.7 510.2,803.4" fill="#96501f"/>
<path d="M508 764.5Q512.9 761.4 515.8 766.4Q521.5 766.9 521.6 773.5Q526.6 776.6 523.6 782Q528 786.9 524.2 789.8Q524.9 795.7 519 796.3Q517.2 801.7 511.9 799.5Q508 803.1 504.1 798.2Q498.2 800.3 496.3 795Q490.5 793.4 491.8 787.2Q487.9 782.8 492.4 778.1Q490.7 772.1 496.3 770.3Q496.6 764.5 501.5 765.8Q504 761 508 764.5Z" fill="#6aa548"/>
<circle cx="502.1" cy="774.2" r="7.8" fill="#86bd5f"/>
<circle cx="498.2" cy="784" r="6.2" fill="#80b759"/>
<circle cx="502.8" cy="792.4" r="5.5" fill="#86bd5f"/>
<circle cx="511.9" cy="794.4" r="4.4" fill="#8dc465"/>
<circle cx="515.1" cy="773.5" r="7.3" fill="#3f7a3c"/>
<circle cx="519" cy="782" r="4.7" fill="#4a873f"/>
<circle cx="509.9" cy="780.7" r="4.7" fill="#3a7238"/>
<circle cx="510.6" cy="787.9" r="4.4" fill="#4f8c3d"/>
<circle cx="508" cy="769" r="3.9" fill="#7fb658"/>
<circle cx="516.5" cy="789.1" r="4.2" fill="#8dc465"/>
<circle cx="506.1" cy="785.2" r="3.1" fill="#90c768"/>
<circle cx="517.8" cy="777.5" r="2.3" fill="#8dc465"/>
<circle cx="496.3" cy="776.8" r="2.9" fill="#5c9843"/>
<polygon points="627.9,795.6 632.1,796.2 629.9,804 625.7,803.4" fill="#6f3510"/>
<polygon points="627.9,795.6 629.8,795.9 627.6,803.7 625.7,803.4" fill="#96501f"/>
<path d="M623.5 764.5Q628.4 761.4 631.3 766.4Q637 766.9 637.1 773.5Q642.1 776.6 639.1 782Q643.5 786.9 639.8 789.8Q640.4 795.7 634.5 796.3Q632.7 801.7 627.4 799.5Q623.5 803.1 619.6 798.2Q613.7 800.3 611.8 795Q606 793.4 607.2 787.2Q603.4 782.8 607.9 778.1Q606.2 772.1 611.8 770.3Q612.1 764.5 617 765.8Q619.5 761 623.5 764.5Z" fill="#6aa548"/>
<circle cx="617.6" cy="774.2" r="7.8" fill="#86bd5f"/>
<circle cx="613.8" cy="784" r="6.2" fill="#80b759"/>
<circle cx="618.3" cy="792.4" r="5.5" fill="#86bd5f"/>
<circle cx="627.4" cy="794.4" r="4.4" fill="#8dc465"/>
<circle cx="630.6" cy="773.5" r="7.3" fill="#3f7a3c"/>
<circle cx="634.5" cy="782" r="4.7" fill="#4a873f"/>
<circle cx="625.5" cy="780.7" r="4.7" fill="#3a7238"/>
<circle cx="626.1" cy="787.9" r="4.4" fill="#4f8c3d"/>
<circle cx="623.5" cy="769" r="3.9" fill="#7fb658"/>
<circle cx="632" cy="789.1" r="4.2" fill="#8dc465"/>
<circle cx="621.5" cy="785.2" r="3.1" fill="#90c768"/>
<circle cx="633.2" cy="777.5" r="2.3" fill="#8dc465"/>
<circle cx="611.8" cy="776.8" r="2.9" fill="#5c9843"/>
<polygon points="666.9,795.6 671.1,796.2 668.9,804 664.7,803.4" fill="#6f3510"/>
<polygon points="666.9,795.6 668.8,795.9 666.6,803.7 664.7,803.4" fill="#96501f"/>
<path d="M662.5 764.5Q667.4 761.4 670.3 766.4Q676 766.9 676.1 773.5Q681.1 776.6 678.1 782Q682.5 786.9 678.8 789.8Q679.4 795.7 673.5 796.3Q671.7 801.7 666.4 799.5Q662.5 803.1 658.6 798.2Q652.7 800.3 650.8 795Q645 793.4 646.2 787.2Q642.4 782.8 646.9 778.1Q645.2 772.1 650.8 770.3Q651.1 764.5 656 765.8Q658.5 761 662.5 764.5Z" fill="#6aa548"/>
<circle cx="656.6" cy="774.2" r="7.8" fill="#86bd5f"/>
<circle cx="652.8" cy="784" r="6.2" fill="#80b759"/>
<circle cx="657.3" cy="792.4" r="5.5" fill="#86bd5f"/>
<circle cx="666.4" cy="794.4" r="4.4" fill="#8dc465"/>
<circle cx="669.6" cy="773.5" r="7.3" fill="#3f7a3c"/>
<circle cx="673.5" cy="782" r="4.7" fill="#4a873f"/>
<circle cx="664.5" cy="780.7" r="4.7" fill="#3a7238"/>
<circle cx="665.1" cy="787.9" r="4.4" fill="#4f8c3d"/>
<circle cx="662.5" cy="769" r="3.9" fill="#7fb658"/>
<circle cx="671" cy="789.1" r="4.2" fill="#8dc465"/>
<circle cx="660.5" cy="785.2" r="3.1" fill="#90c768"/>
<circle cx="672.2" cy="777.5" r="2.3" fill="#8dc465"/>
<circle cx="650.8" cy="776.8" r="2.9" fill="#5c9843"/>
<polygon points="705.4,795.6 709.6,796.2 707.4,804 703.2,803.4" fill="#6f3510"/>
<polygon points="705.4,795.6 707.3,795.9 705.1,803.7 703.2,803.4" fill="#96501f"/>
<path d="M701 764.5Q705.9 761.4 708.8 766.4Q714.5 766.9 714.6 773.5Q719.6 776.6 716.6 782Q721 786.9 717.2 789.8Q717.9 795.7 712 796.3Q710.2 801.7 704.9 799.5Q701 803.1 697.1 798.2Q691.2 800.3 689.3 795Q683.5 793.4 684.8 787.2Q680.9 782.8 685.4 778.1Q683.7 772.1 689.3 770.3Q689.6 764.5 694.5 765.8Q697 761 701 764.5Z" fill="#6aa548"/>
<circle cx="695.1" cy="774.2" r="7.8" fill="#86bd5f"/>
<circle cx="691.2" cy="784" r="6.2" fill="#80b759"/>
<circle cx="695.8" cy="792.4" r="5.5" fill="#86bd5f"/>
<circle cx="704.9" cy="794.4" r="4.4" fill="#8dc465"/>
<circle cx="708.1" cy="773.5" r="7.3" fill="#3f7a3c"/>
<circle cx="712" cy="782" r="4.7" fill="#4a873f"/>
<circle cx="703" cy="780.7" r="4.7" fill="#3a7238"/>
<circle cx="703.6" cy="787.9" r="4.4" fill="#4f8c3d"/>
<circle cx="701" cy="769" r="3.9" fill="#7fb658"/>
<circle cx="709.5" cy="789.1" r="4.2" fill="#8dc465"/>
<circle cx="699" cy="785.2" r="3.1" fill="#90c768"/>
<circle cx="710.8" cy="777.5" r="2.3" fill="#8dc465"/>
<circle cx="689.3" cy="776.8" r="2.9" fill="#5c9843"/>
<path d="M301.2 577.1L348.6 606.6M283 590L348.6 606.6M333 621L301.2 577.1M319 564.4L363.8 592.6M301.2 577.1L363.8 592.6M348.6 606.6L319 564.4M336.2 552.2L378.6 579M319 564.4L378.6 579M363.8 592.6L336.2 552.2M352.9 540.4L392.9 565.9M336.2 552.2L392.9 565.9M378.6 579L352.9 540.4M369 528.9L406.7 553.2M352.9 540.4L406.7 553.2M392.9 565.9L369 528.9M384.5 517.9L420 540.9M369 528.9L420 540.9M406.7 553.2L384.5 517.9M399.4 507.4L432.7 529.2M384.5 517.9L432.7 529.2M420 540.9L399.4 507.4M413.5 497.3L444.8 518.1M399.4 507.4L444.8 518.1M432.7 529.2L413.5 497.3M426.8 487.9L456.2 507.6M413.5 497.3L456.2 507.6M444.8 518.1L426.8 487.9M439.2 479.1L466.8 497.8M426.8 487.9L466.8 497.8M456.2 507.6L439.2 479.1M450.6 471L476.5 488.9M439.2 479.1L476.5 488.9M466.8 497.8L450.6 471M460.7 463.8L485.1 480.9M450.6 471L485.1 480.9M476.5 488.9L460.7 463.8M469.1 457.9L492.3 474.3M460.7 463.8L492.3 474.3M485.1 480.9L469.1 457.9M474.5 454L497 470M469.1 457.9L497 470M492.3 474.3L474.5 454M283 590L474.5 454M333 621L497 470" fill="none" stroke="#27529e" stroke-width="0.9" stroke-opacity="0.9" stroke-linecap="round"/>
<path d="M293.2 604.7L349.8 605.5M273 621L349.8 605.5M333 621L293.2 604.7M312.8 588.9L366.1 590.5M293.2 604.7L366.1 590.5M349.8 605.5L312.8 588.9M331.8 573.6L381.9 576M312.8 588.9L381.9 576M366.1 590.5L331.8 573.6M350.1 558.8L397.2 561.9M331.8 573.6L397.2 561.9M381.9 576L350.1 558.8M367.7 544.6L411.8 548.4M350.1 558.8L411.8 548.4M397.2 561.9L367.7 544.6M384.6 530.9L425.9 535.5M367.7 544.6L425.9 535.5M411.8 548.4L384.6 530.9M400.6 518L439.3 523.2M384.6 530.9L439.3 523.2M425.9 535.5L400.6 518M415.8 505.8L451.9 511.6M400.6 518L451.9 511.6M439.3 523.2L415.8 505.8M429.9 494.4L463.6 500.8M415.8 505.8L463.6 500.8M451.9 511.6L429.9 494.4M442.8 484L474.3 490.9M429.9 494.4L474.3 490.9M463.6 500.8L442.8 484M454.3 474.7L483.9 482.1M442.8 484L483.9 482.1M474.3 490.9L454.3 474.7M463.8 467L491.9 474.7M454.3 474.7L491.9 474.7M483.9 482.1L463.8 467M470 462L497 470M463.8 467L497 470M491.9 474.7L470 462M273 621L470 462M333 621L497 470" fill="none" stroke="#27529e" stroke-width="0.8" stroke-opacity="0.8" stroke-linecap="round"/>
<path d="M314 588.7L335.4 602.4M300 600L335.4 602.4M322 614L314 588.7M327.7 577.6L348.4 591M314 588.7L348.4 591M335.4 602.4L327.7 577.6M341 566.8L361.2 579.9M327.7 577.6L361.2 579.9M348.4 591L341 566.8M354.1 556.2L373.7 569M341 566.8L373.7 569M361.2 579.9L354.1 556.2M366.8 546L385.8 558.5M354.1 556.2L385.8 558.5M373.7 569L366.8 546M379.1 536L397.5 548.2M366.8 546L397.5 548.2M385.8 558.5L379.1 536M391 526.3L408.9 538.3M379.1 536L408.9 538.3M397.5 548.2L391 526.3M402.6 517L420 528.7M391 526.3L420 528.7M408.9 538.3L402.6 517M413.7 508.1L430.6 519.5M402.6 517L430.6 519.5M420 528.7L413.7 508.1M424.3 499.5L440.7 510.7M413.7 508.1L440.7 510.7M430.6 519.5L424.3 499.5M434.4 491.3L450.3 502.3M424.3 499.5L450.3 502.3M440.7 510.7L434.4 491.3M443.9 483.6L459.4 494.4M434.4 491.3L459.4 494.4M450.3 502.3L443.9 483.6M452.8 476.4L467.9 487M443.9 483.6L467.9 487M459.4 494.4L452.8 476.4M460.9 469.8L475.7 480.2M452.8 476.4L475.7 480.2M467.9 487L460.9 469.8M468.1 464L482.5 474.2M460.9 469.8L482.5 474.2M475.7 480.2L468.1 464M474.1 459.1L488.3 469.2M468.1 464L488.3 469.2M482.5 474.2L474.1 459.1M478 456L492 466M474.1 459.1L492 466M488.3 469.2L478 456M300 600L478 456M322 614L492 466" fill="none" stroke="#27529e" stroke-width="0.7" stroke-opacity="0.75" stroke-linecap="round"/>
<path d="M462 468L428 474L480 478M453.5 469.5L467 477M462 468L467 477M445 471L454 476M453.5 469.5L454 476M436.5 472.5L441 475M445 471L441 475" fill="none" stroke="#27529e" stroke-width="0.8" stroke-opacity="0.9" stroke-linecap="round"/>
<path d="M462 468L518 462L480 478M476 466.5L489.5 474M462 468L489.5 474M490 465L499 470M476 466.5L499 470M504 463.5L508.5 466M490 465L508.5 466" fill="none" stroke="#27529e" stroke-width="0.8" stroke-opacity="0.9" stroke-linecap="round"/>
<polyline points="428,474 422,478" fill="none" stroke="#2b62c6" stroke-width="1.6" />
<polyline points="518,462 513,467" fill="none" stroke="#2b62c6" stroke-width="1.6" />
<path d="M436 490L400 494L456 502M427 491L442 500M436 490L442 500M418 492L428 498M427 491L428 498M409 493L414 496M418 492L414 496" fill="none" stroke="#27529e" stroke-width="0.8" stroke-opacity="0.9" stroke-linecap="round"/>
<path d="M436 490L488 488L456 502M449 489.5L464 498.5M436 490L464 498.5M462 489L472 495M449 489.5L472 495M475 488.5L480 491.5M462 489L480 491.5" fill="none" stroke="#27529e" stroke-width="0.8" stroke-opacity="0.9" stroke-linecap="round"/>
<polyline points="400,494 394,498" fill="none" stroke="#2b62c6" stroke-width="1.6" />
<polyline points="488,488 483,493" fill="none" stroke="#2b62c6" stroke-width="1.6" />
<path d="M408 514L372 518L430 527M399 515L415.5 524.8M408 514L415.5 524.8M390 516L401 522.5M399 515L401 522.5M381 517L386.5 520.2M390 516L386.5 520.2" fill="none" stroke="#27529e" stroke-width="0.8" stroke-opacity="0.9" stroke-linecap="round"/>
<path d="M408 514L460 512L430 527M421 513.5L437.5 523.2M408 514L437.5 523.2M434 513L445 519.5M421 513.5L445 519.5M447 512.5L452.5 515.8M434 513L452.5 515.8" fill="none" stroke="#27529e" stroke-width="0.8" stroke-opacity="0.9" stroke-linecap="round"/>
<polyline points="372,518 366,522" fill="none" stroke="#2b62c6" stroke-width="1.6" />
<polyline points="460,512 455,517" fill="none" stroke="#2b62c6" stroke-width="1.6" />
<path d="M266.9 598L323 597.2M273 621L323 597.2M331 620L266.9 598M260.8 575L315 574.3M266.9 598L315 574.3M323 597.2L260.8 575M254.8 552L307 551.5M260.8 575L307 551.5M315 574.3L254.8 552M248.7 529L299 528.7M254.8 552L299 528.7M307 551.5L248.7 529M242.6 506L291 505.8M248.7 529L291 505.8M299 528.7L242.6 506M236.5 483L283 483M242.6 506L283 483M291 505.8L236.5 483M273 621L236.5 483M331 620L283 483" fill="none" stroke="#6d84b6" stroke-width="0.9" stroke-opacity="0.95" stroke-linecap="round"/>
<path d="M230.2 471.2L276.2 470.2M236.5 483L276.2 470.2M283 483L230.2 471.2M223.9 459.4L269.3 457.4M230.2 471.2L269.3 457.4M276.2 470.2L223.9 459.4M217.7 447.7L262.5 444.7M223.9 459.4L262.5 444.7M269.3 457.4L217.7 447.7M211.4 435.9L255.7 431.9M217.7 447.7L255.7 431.9M262.5 444.7L211.4 435.9M205.1 424.1L248.8 419.1M211.4 435.9L248.8 419.1M255.7 431.9L205.1 424.1M198.8 412.3L242 406.3M205.1 424.1L242 406.3M248.8 419.1L198.8 412.3M192.6 400.6L235.2 393.6M198.8 412.3L235.2 393.6M242 406.3L192.6 400.6M186.3 388.8L228.3 380.8M192.6 400.6L228.3 380.8M235.2 393.6L186.3 388.8M180 377L221.5 368M186.3 388.8L221.5 368M228.3 380.8L180 377M236.5 483L180 377M283 483L221.5 368" fill="none" stroke="#6d84b6" stroke-width="0.8" stroke-opacity="0.95" stroke-linecap="round"/>
<path d="M280.7 582.3L317.8 590.2M288 602L317.8 590.2M326 611L280.7 582.3M273.3 562.7L309.7 569.3M280.7 582.3L309.7 569.3M317.8 590.2L273.3 562.7M266 543L301.5 548.5M273.3 562.7L301.5 548.5M309.7 569.3L266 543M258.7 523.3L293.3 527.7M266 543L293.3 527.7M301.5 548.5L258.7 523.3M251.3 503.7L285.2 506.8M258.7 523.3L285.2 506.8M293.3 527.7L251.3 503.7M244 484L277 486M251.3 503.7L277 486M285.2 506.8L244 484M288 602L244 484M326 611L277 486" fill="none" stroke="#9fafd0" stroke-width="0.6" stroke-opacity="0.85" stroke-linecap="round"/>
<path d="M237.7 471L270.1 472.4M244 484L270.1 472.4M277 486L237.7 471M231.3 458L263.2 458.9M237.7 471L263.2 458.9M270.1 472.4L231.3 458M225 445L256.3 445.3M231.3 458L256.3 445.3M263.2 458.9L225 445M218.7 432L249.4 431.8M225 445L249.4 431.8M256.3 445.3L218.7 432M212.3 419L242.6 418.2M218.7 432L242.6 418.2M249.4 431.8L212.3 419M206 406L235.7 404.7M212.3 419L235.7 404.7M242.6 418.2L206 406M199.7 393L228.8 391.1M206 406L228.8 391.1M235.7 404.7L199.7 393M193.3 380L221.9 377.6M199.7 393L221.9 377.6M228.8 391.1L193.3 380M187 367L215 364M193.3 380L215 364M221.9 377.6L187 367M244 484L187 367M277 486L215 364" fill="none" stroke="#9fafd0" stroke-width="0.6" stroke-opacity="0.85" stroke-linecap="round"/>
<path d="M266.9 598L293.7 577.5M273 621L293.7 577.5M302 597L266.9 598M260.8 575L285.3 558M266.9 598L285.3 558M293.7 577.5L260.8 575M254.8 552L277 538.5M260.8 575L277 538.5M285.3 558L254.8 552M248.7 529L268.7 519M254.8 552L268.7 519M277 538.5L248.7 529M242.6 506L260.3 499.5M248.7 529L260.3 499.5M268.7 519L242.6 506M236.5 483L252 480M242.6 506L252 480M260.3 499.5L236.5 483M273 621L236.5 483M302 597L252 480" fill="none" stroke="#8a9cc4" stroke-width="0.6" stroke-opacity="0.8" stroke-linecap="round"/>
<path d="M229.4 469.8L244.5 465.4M236.5 483L244.5 465.4M252 480L229.4 469.8M222.4 456.5L237 450.8M229.4 469.8L237 450.8M244.5 465.4L222.4 456.5M215.3 443.2L229.5 436.1M222.4 456.5L229.5 436.1M237 450.8L215.3 443.2M208.2 430L222 421.5M215.3 443.2L222 421.5M229.5 436.1L208.2 430M201.2 416.8L214.5 406.9M208.2 430L214.5 406.9M222 421.5L201.2 416.8M194.1 403.5L207 392.2M201.2 416.8L207 392.2M214.5 406.9L194.1 403.5M187.1 390.2L199.5 377.6M194.1 403.5L199.5 377.6M207 392.2L187.1 390.2M180 377L192 363M187.1 390.2L192 363M199.5 377.6L180 377M236.5 483L180 377M252 480L192 363" fill="none" stroke="#8a9cc4" stroke-width="0.6" stroke-opacity="0.8" stroke-linecap="round"/>
<path d="M180 377 L190 362 L216 362 L221.5 368 M180 377 L216 362 M190 362 L221.5 368" fill="none" stroke="#6d84b6" stroke-width="0.8"/>
<polyline points="190,363 248,482 288,578" fill="none" stroke="#1b2c58" stroke-width="1.2" stroke-dasharray="6 1.6"/>
<polyline points="216.4,363.3 283,483 331,620" fill="none" stroke="#243c78" stroke-width="1" />
<polyline points="205,368 266,484 312,606" fill="none" stroke="#5a73aa" stroke-width="0.7" stroke-dasharray="1.2 2.4"/>
<polyline points="198,372 258,486 299,600" fill="none" stroke="#5a73aa" stroke-width="0.7" stroke-dasharray="1 3"/>
<path d="M181 383L151.5 376L184 369M173.6 381.2L175.9 370.8M181 383L175.9 370.8M166.2 379.5L167.8 372.5M173.6 381.2L167.8 372.5M158.9 377.8L159.6 374.2M166.2 379.5L159.6 374.2" fill="none" stroke="#6d84b6" stroke-width="0.7" stroke-opacity="0.9" stroke-linecap="round"/>
<path d="M222 383L251.5 376L219 369M229.4 381.2L227.1 370.8M222 383L227.1 370.8M236.8 379.5L235.2 372.5M229.4 381.2L235.2 372.5M244.1 377.8L243.4 374.2M236.8 379.5L243.4 374.2" fill="none" stroke="#6d84b6" stroke-width="0.7" stroke-opacity="0.9" stroke-linecap="round"/>
<polyline points="152.5,376 189,366" fill="none" stroke="#a8b6d6" stroke-width="0.6" />
<polyline points="250.5,376 214,366" fill="none" stroke="#a8b6d6" stroke-width="0.6" />
<polyline points="154.5,381 159.5,393" fill="none" stroke="#4a6fc0" stroke-width="1.8" />
<polyline points="250.5,381 255.5,393" fill="none" stroke="#4a6fc0" stroke-width="1.8" />
<path d="M207 435L178 428L210 421M199.8 433.2L202 422.8M207 435L202 422.8M192.5 431.5L194 424.5M199.8 433.2L194 424.5M185.2 429.8L186 426.2M192.5 431.5L186 426.2" fill="none" stroke="#6d84b6" stroke-width="0.7" stroke-opacity="0.9" stroke-linecap="round"/>
<path d="M251 435L277 428L248 421M257.5 433.2L255.2 422.8M251 435L255.2 422.8M264 431.5L262.5 424.5M257.5 433.2L262.5 424.5M270.5 429.8L269.8 426.2M264 431.5L269.8 426.2" fill="none" stroke="#6d84b6" stroke-width="0.7" stroke-opacity="0.9" stroke-linecap="round"/>
<polyline points="179,428 215,418" fill="none" stroke="#a8b6d6" stroke-width="0.6" />
<polyline points="276,428 243,418" fill="none" stroke="#a8b6d6" stroke-width="0.6" />
<polyline points="181,433 186,445" fill="none" stroke="#4a6fc0" stroke-width="1.8" />
<polyline points="276,433 281,445" fill="none" stroke="#4a6fc0" stroke-width="1.8" />
<path d="M227 473L199 466L230 459M220 471.2L222.2 460.8M227 473L222.2 460.8M213 469.5L214.5 462.5M220 471.2L214.5 462.5M206 467.8L206.8 464.2M213 469.5L206.8 464.2" fill="none" stroke="#6d84b6" stroke-width="0.7" stroke-opacity="0.9" stroke-linecap="round"/>
<path d="M273 473L268 466L270 459M271.8 471.2L269.5 460.8M273 473L269.5 460.8M270.5 469.5L269 462.5M271.8 471.2L269 462.5M269.2 467.8L268.5 464.2M270.5 469.5L268.5 464.2" fill="none" stroke="#6d84b6" stroke-width="0.7" stroke-opacity="0.9" stroke-linecap="round"/>
<polyline points="200,466 235,456" fill="none" stroke="#a8b6d6" stroke-width="0.6" />
<polyline points="267,466 265,456" fill="none" stroke="#a8b6d6" stroke-width="0.6" />
<polyline points="202,471 207,483" fill="none" stroke="#4a6fc0" stroke-width="1.8" />
<polyline points="267,471 272,483" fill="none" stroke="#4a6fc0" stroke-width="1.8" />
<rect x="271.5" y="619.5" width="3" height="3" fill="#2f5ba6"/>
<rect x="329.5" y="618.5" width="3" height="3" fill="#2f5ba6"/>
</svg>
<div class="dt" style="left:726px;top:64.8px"></div>
<div class="dt" style="left:534.7px;top:133.5px"></div>
<div class="dt" style="left:752px;top:205px"></div>
<div class="dt" style="left:639px;top:319px"></div>
<div class="dt" style="left:826.5px;top:341.5px"></div>
<div class="dt" style="left:228.5px;top:454.5px"></div>
<div class="dt" style="left:458px;top:570.5px"></div>
<div class="dt" style="left:668.5px;top:563.2px"></div>
<div class="dt" style="left:781px;top:660.3px"></div>
<div class="dt" style="left:591.5px;top:694.1px"></div>
<div class="dt" style="left:1140.1px;top:100.3px"></div>
<div class="dt" style="left:1308.1px;top:86.5px"></div>
<div class="dt" style="left:1325.3px;top:178.8px"></div>
<div class="dt" style="left:1056.8px;top:190px"></div>
<div class="dt" style="left:1356.5px;top:266.5px"></div>
<div class="dt" style="left:1450px;top:331.5px"></div>
<div class="dt" style="left:1506.5px;top:467.8px"></div>
<div class="dt" style="left:1411.5px;top:543.5px"></div>
<div class="dt" style="left:1285.8px;top:719.3px"></div>
<div class="lb" style="left:593.5px;top:73px;width:130px;padding-right:0.6px">风力发电机</div>
<div class="lb" style="left:369.4px;top:129px;width:160.4px;padding-left:1.2px">风力控制逆变一体机</div>
<div class="lb" style="left:585px;top:210.8px;width:161.5px;padding-left:2.4px">屋顶光伏发电板</div>
<div class="lb" style="left:529.5px;top:334px;width:127.5px;padding-left:3.8px">工厂用电</div>
<div class="lb" style="left:846px;top:338.8px;width:121.5px;padding-left:1.6px">光伏逆变器</div>
<div class="lb" style="left:243.8px;top:461px;width:100.5px;padding-right:5px">电网</div>
<div class="lb" style="left:326px;top:557.5px;width:127.5px;padding-left:1.4px">并/离网控制器</div>
<div class="lb" style="left:536.7px;top:550.3px;width:127.5px;padding-left:2px">交流母线柜</div>
<div class="lb" style="left:795.8px;top:639px;width:127px;padding-left:2px">双向逆变器</div>
<div class="lb" style="left:482px;top:709px;width:127px;padding-left:2px">储能集装箱</div>
<div class="lb" style="left:954px;top:107px;width:180px;padding-left:9.8px">EMS控制中心（室内）</div>
<div class="lb" style="left:1322.4px;top:71.2px;width:127px;padding-left:1.6px">园区用电</div>
<div class="lb" style="left:1165.2px;top:158.4px;width:160.5px;padding-left:2.8px">屋顶光伏发电板</div>
<div class="lb" style="left:962px;top:203.8px;width:120.8px;padding-left:1.6px">光伏逆变器</div>
<div class="lb" style="left:1325px;top:244px;width:121px;padding-left:3.2px">光伏逆变器</div>
<div class="lb" style="left:1319px;top:334.5px;width:127px;padding-left:3.2px">工厂用电</div>
<div class="lb" style="left:1525.7px;top:468.7px;width:121.5px;padding-left:2.8px">光伏逆变器</div>
<div class="lb" style="left:1443.6px;top:537.8px;width:204px;padding-right:3.6px">太阳能车棚(新能源汽车)</div>
<div class="lb" style="left:1317.7px;top:713.5px;width:168.5px;padding-right:1.4px">充电桩(新能源汽车)</div>
</body>
</html>
